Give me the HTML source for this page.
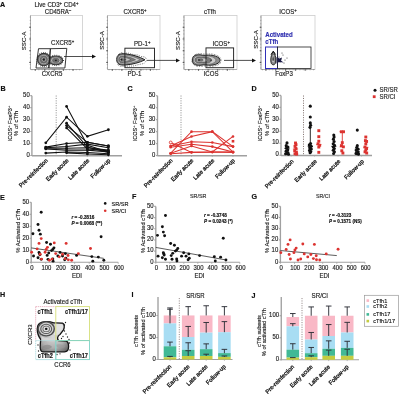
<!DOCTYPE html>
<html><head><meta charset="utf-8"><style>
html,body{margin:0;padding:0;background:#fff;width:400px;height:394px;overflow:hidden}
svg{display:block;will-change:transform}
text{font-family:"Liberation Sans", sans-serif;stroke:currentColor;stroke-width:0.15px}
</style></head><body>
<svg width="400" height="394" viewBox="0 0 400 394">
<rect width="400" height="394" fill="#fff"/>
<text x="0" y="0" font-size="7.2" text-anchor="start" font-weight="bold" fill="#111" color="#111" transform="translate(0 7.45) scale(1 1.12)" >A</text>
<text x="0" y="0" font-size="7.2" text-anchor="start" font-weight="bold" fill="#111" color="#111" transform="translate(0.5 90.95) scale(1 1.12)" >B</text>
<text x="0" y="0" font-size="7.2" text-anchor="start" font-weight="bold" fill="#111" color="#111" transform="translate(127.5 90.95) scale(1 1.12)" >C</text>
<text x="0" y="0" font-size="7.2" text-anchor="start" font-weight="bold" fill="#111" color="#111" transform="translate(251.5 90.95) scale(1 1.12)" >D</text>
<text x="0" y="0" font-size="7.2" text-anchor="start" font-weight="bold" fill="#111" color="#111" transform="translate(0 199.95) scale(1 1.12)" >E</text>
<text x="0" y="0" font-size="7.2" text-anchor="start" font-weight="bold" fill="#111" color="#111" transform="translate(132 199.45) scale(1 1.12)" >F</text>
<text x="0" y="0" font-size="7.2" text-anchor="start" font-weight="bold" fill="#111" color="#111" transform="translate(251.5 199.45) scale(1 1.12)" >G</text>
<text x="0" y="0" font-size="7.2" text-anchor="start" font-weight="bold" fill="#111" color="#111" transform="translate(0 297.45) scale(1 1.12)" >H</text>
<text x="0" y="0" font-size="7.2" text-anchor="start" font-weight="bold" fill="#111" color="#111" transform="translate(131.5 297.45) scale(1 1.12)" >I</text>
<text x="0" y="0" font-size="7.2" text-anchor="start" font-weight="bold" fill="#111" color="#111" transform="translate(251.5 297.95) scale(1 1.12)" >J</text>
<rect x="30.5" y="15.5" width="52" height="54" fill="none" stroke="#cccccc" stroke-width="0.8" />
<line x1="30.5" y1="15.5" x2="30.5" y2="69.5" stroke="#a8a8a8" stroke-width="0.9" />
<line x1="30.5" y1="69.5" x2="82.5" y2="69.5" stroke="#a8a8a8" stroke-width="0.9" />
<line x1="29.7" y1="68" x2="30.8" y2="68" stroke="#777" stroke-width="0.5" />
<line x1="29.7" y1="64.6" x2="30.8" y2="64.6" stroke="#777" stroke-width="0.5" />
<line x1="29.7" y1="61.2" x2="30.8" y2="61.2" stroke="#777" stroke-width="0.5" />
<line x1="29.7" y1="57.8" x2="30.8" y2="57.8" stroke="#777" stroke-width="0.5" />
<line x1="29.7" y1="54.4" x2="30.8" y2="54.4" stroke="#777" stroke-width="0.5" />
<line x1="29.7" y1="51" x2="30.8" y2="51" stroke="#777" stroke-width="0.5" />
<line x1="29.7" y1="47.6" x2="30.8" y2="47.6" stroke="#777" stroke-width="0.5" />
<line x1="29.7" y1="44.2" x2="30.8" y2="44.2" stroke="#777" stroke-width="0.5" />
<line x1="29.7" y1="40.8" x2="30.8" y2="40.8" stroke="#777" stroke-width="0.5" />
<line x1="29.7" y1="37.4" x2="30.8" y2="37.4" stroke="#777" stroke-width="0.5" />
<line x1="29.7" y1="34" x2="30.8" y2="34" stroke="#777" stroke-width="0.5" />
<line x1="29.7" y1="30.6" x2="30.8" y2="30.6" stroke="#777" stroke-width="0.5" />
<line x1="29.7" y1="27.2" x2="30.8" y2="27.2" stroke="#777" stroke-width="0.5" />
<line x1="29.7" y1="23.8" x2="30.8" y2="23.8" stroke="#777" stroke-width="0.5" />
<line x1="29.7" y1="20.4" x2="30.8" y2="20.4" stroke="#777" stroke-width="0.5" />
<line x1="29.7" y1="17" x2="30.8" y2="17" stroke="#777" stroke-width="0.5" />
<line x1="29.2" y1="62.46" x2="30.8" y2="62.46" stroke="#333" stroke-width="0.8" />
<line x1="29.2" y1="50.72" x2="30.8" y2="50.72" stroke="#333" stroke-width="0.8" />
<line x1="29.2" y1="38.98" x2="30.8" y2="38.98" stroke="#333" stroke-width="0.8" />
<line x1="29.2" y1="27.24" x2="30.8" y2="27.24" stroke="#333" stroke-width="0.8" />
<line x1="32" y1="69.2" x2="32" y2="70.3" stroke="#777" stroke-width="0.5" />
<line x1="35.4" y1="69.2" x2="35.4" y2="70.3" stroke="#777" stroke-width="0.5" />
<line x1="38.8" y1="69.2" x2="38.8" y2="70.3" stroke="#777" stroke-width="0.5" />
<line x1="42.2" y1="69.2" x2="42.2" y2="70.3" stroke="#777" stroke-width="0.5" />
<line x1="45.6" y1="69.2" x2="45.6" y2="70.3" stroke="#777" stroke-width="0.5" />
<line x1="49" y1="69.2" x2="49" y2="70.3" stroke="#777" stroke-width="0.5" />
<line x1="52.4" y1="69.2" x2="52.4" y2="70.3" stroke="#777" stroke-width="0.5" />
<line x1="55.8" y1="69.2" x2="55.8" y2="70.3" stroke="#777" stroke-width="0.5" />
<line x1="59.2" y1="69.2" x2="59.2" y2="70.3" stroke="#777" stroke-width="0.5" />
<line x1="62.6" y1="69.2" x2="62.6" y2="70.3" stroke="#777" stroke-width="0.5" />
<line x1="66" y1="69.2" x2="66" y2="70.3" stroke="#777" stroke-width="0.5" />
<line x1="69.4" y1="69.2" x2="69.4" y2="70.3" stroke="#777" stroke-width="0.5" />
<line x1="72.8" y1="69.2" x2="72.8" y2="70.3" stroke="#777" stroke-width="0.5" />
<line x1="76.2" y1="69.2" x2="76.2" y2="70.3" stroke="#777" stroke-width="0.5" />
<line x1="79.6" y1="69.2" x2="79.6" y2="70.3" stroke="#777" stroke-width="0.5" />
<line x1="35.23" y1="69.2" x2="35.23" y2="70.8" stroke="#333" stroke-width="0.8" />
<line x1="44.68" y1="69.2" x2="44.68" y2="70.8" stroke="#333" stroke-width="0.8" />
<line x1="54.14" y1="69.2" x2="54.14" y2="70.8" stroke="#333" stroke-width="0.8" />
<line x1="63.59" y1="69.2" x2="63.59" y2="70.8" stroke="#333" stroke-width="0.8" />
<line x1="73.05" y1="69.2" x2="73.05" y2="70.8" stroke="#333" stroke-width="0.8" />
<text x="0" y="0" font-size="6.1" text-anchor="middle" font-weight="normal" fill="#1e1e1e" color="#1e1e1e" transform="translate(56.5 6.85) scale(1 1.12)" >Live CD3<tspan font-size="70%" dy="-2">+</tspan><tspan dy="2"> </tspan>CD4<tspan font-size="70%" dy="-2">+</tspan></text>
<text x="0" y="0" font-size="6.1" text-anchor="middle" font-weight="normal" fill="#1e1e1e" color="#1e1e1e" transform="translate(58 14.15) scale(1 1.12)" >CD45RA<tspan font-size="70%" dy="-2">&#8211;</tspan></text>
<text x="26.4" y="40.9" font-size="6.1" text-anchor="middle" font-weight="normal" fill="#1e1e1e" color="#1e1e1e" transform="rotate(-90 26.4 40.9)" >SSC-A</text>
<text x="0" y="0" font-size="6.1" text-anchor="middle" font-weight="normal" fill="#1e1e1e" color="#1e1e1e" transform="translate(52 75.75) scale(1 1.12)" >CXCR5</text>
<circle cx="43.8" cy="59.6" r="7" fill="none" stroke="#333" stroke-width="1.2" stroke-dasharray="0.6 1.4"/>
<ellipse cx="55.8" cy="60.4" rx="7.6" ry="5.2" fill="none" stroke="#333" stroke-width="1.1" stroke-dasharray="0.6 1.6"/>
<g>
<ellipse cx="55.8" cy="60.4" rx="6.8" ry="4.4" fill="#8a8a8a" stroke="#333" stroke-width="1.1"/>
<ellipse cx="55.8" cy="60.4" rx="5.1" ry="3.3" fill="#c4c4c4" stroke="#444" stroke-width="0.5"/>
<ellipse cx="55.8" cy="60.4" rx="3.4" ry="2.2" fill="#7a7a7a" stroke="#444" stroke-width="0.5"/>
<ellipse cx="55.8" cy="60.4" rx="1.7" ry="1.1" fill="#c4c4c4" stroke="#444" stroke-width="0.5"/>
<ellipse cx="55.8" cy="60.4" rx="1.22" ry="0.79" fill="#222"/>
</g>
<g>
<ellipse cx="43.8" cy="59.6" rx="6.2" ry="6.2" fill="#8a8a8a" stroke="#333" stroke-width="1.1"/>
<ellipse cx="43.8" cy="59.6" rx="4.96" ry="4.96" fill="#c4c4c4" stroke="#444" stroke-width="0.5"/>
<ellipse cx="43.8" cy="59.6" rx="3.72" ry="3.72" fill="#7a7a7a" stroke="#444" stroke-width="0.5"/>
<ellipse cx="43.8" cy="59.6" rx="2.48" ry="2.48" fill="#c4c4c4" stroke="#444" stroke-width="0.5"/>
<ellipse cx="43.8" cy="59.6" rx="1.24" ry="1.24" fill="#7a7a7a" stroke="#444" stroke-width="0.5"/>
<ellipse cx="43.8" cy="59.6" rx="1.12" ry="1.12" fill="#222"/>
</g>
<path d="M38.5 48.7 L50.4 48.7 L48.8 68 L36 68 Z" fill="none" stroke="#222" stroke-width="0.9"/>
<path d="M50.4 48.7 L66.8 48.4 L64.9 68 L48.8 68 Z" fill="none" stroke="#222" stroke-width="0.9"/>
<text x="0" y="0" font-size="6.1" text-anchor="start" font-weight="normal" fill="#1e1e1e" color="#1e1e1e" transform="translate(51 45.15) scale(1 1.12)" >CXCR5<tspan font-size="70%" dy="-2">+</tspan></text>
<line x1="64" y1="56.5" x2="93" y2="56.5" stroke="#222" stroke-width="0.8" />
<path d="M96 56.5 L92 54.5 L92 58.5 Z" fill="#111"/>
<rect x="107.5" y="15.5" width="52.5" height="54" fill="none" stroke="#cccccc" stroke-width="0.8" />
<line x1="107.5" y1="15.5" x2="107.5" y2="69.5" stroke="#a8a8a8" stroke-width="0.9" />
<line x1="107.5" y1="69.5" x2="160" y2="69.5" stroke="#a8a8a8" stroke-width="0.9" />
<line x1="106.7" y1="68" x2="107.8" y2="68" stroke="#777" stroke-width="0.5" />
<line x1="106.7" y1="64.6" x2="107.8" y2="64.6" stroke="#777" stroke-width="0.5" />
<line x1="106.7" y1="61.2" x2="107.8" y2="61.2" stroke="#777" stroke-width="0.5" />
<line x1="106.7" y1="57.8" x2="107.8" y2="57.8" stroke="#777" stroke-width="0.5" />
<line x1="106.7" y1="54.4" x2="107.8" y2="54.4" stroke="#777" stroke-width="0.5" />
<line x1="106.7" y1="51" x2="107.8" y2="51" stroke="#777" stroke-width="0.5" />
<line x1="106.7" y1="47.6" x2="107.8" y2="47.6" stroke="#777" stroke-width="0.5" />
<line x1="106.7" y1="44.2" x2="107.8" y2="44.2" stroke="#777" stroke-width="0.5" />
<line x1="106.7" y1="40.8" x2="107.8" y2="40.8" stroke="#777" stroke-width="0.5" />
<line x1="106.7" y1="37.4" x2="107.8" y2="37.4" stroke="#777" stroke-width="0.5" />
<line x1="106.7" y1="34" x2="107.8" y2="34" stroke="#777" stroke-width="0.5" />
<line x1="106.7" y1="30.6" x2="107.8" y2="30.6" stroke="#777" stroke-width="0.5" />
<line x1="106.7" y1="27.2" x2="107.8" y2="27.2" stroke="#777" stroke-width="0.5" />
<line x1="106.7" y1="23.8" x2="107.8" y2="23.8" stroke="#777" stroke-width="0.5" />
<line x1="106.7" y1="20.4" x2="107.8" y2="20.4" stroke="#777" stroke-width="0.5" />
<line x1="106.7" y1="17" x2="107.8" y2="17" stroke="#777" stroke-width="0.5" />
<line x1="106.2" y1="62.46" x2="107.8" y2="62.46" stroke="#333" stroke-width="0.8" />
<line x1="106.2" y1="50.72" x2="107.8" y2="50.72" stroke="#333" stroke-width="0.8" />
<line x1="106.2" y1="38.98" x2="107.8" y2="38.98" stroke="#333" stroke-width="0.8" />
<line x1="106.2" y1="27.24" x2="107.8" y2="27.24" stroke="#333" stroke-width="0.8" />
<line x1="109" y1="69.2" x2="109" y2="70.3" stroke="#777" stroke-width="0.5" />
<line x1="112.4" y1="69.2" x2="112.4" y2="70.3" stroke="#777" stroke-width="0.5" />
<line x1="115.8" y1="69.2" x2="115.8" y2="70.3" stroke="#777" stroke-width="0.5" />
<line x1="119.2" y1="69.2" x2="119.2" y2="70.3" stroke="#777" stroke-width="0.5" />
<line x1="122.6" y1="69.2" x2="122.6" y2="70.3" stroke="#777" stroke-width="0.5" />
<line x1="126" y1="69.2" x2="126" y2="70.3" stroke="#777" stroke-width="0.5" />
<line x1="129.4" y1="69.2" x2="129.4" y2="70.3" stroke="#777" stroke-width="0.5" />
<line x1="132.8" y1="69.2" x2="132.8" y2="70.3" stroke="#777" stroke-width="0.5" />
<line x1="136.2" y1="69.2" x2="136.2" y2="70.3" stroke="#777" stroke-width="0.5" />
<line x1="139.6" y1="69.2" x2="139.6" y2="70.3" stroke="#777" stroke-width="0.5" />
<line x1="143" y1="69.2" x2="143" y2="70.3" stroke="#777" stroke-width="0.5" />
<line x1="146.4" y1="69.2" x2="146.4" y2="70.3" stroke="#777" stroke-width="0.5" />
<line x1="149.8" y1="69.2" x2="149.8" y2="70.3" stroke="#777" stroke-width="0.5" />
<line x1="153.2" y1="69.2" x2="153.2" y2="70.3" stroke="#777" stroke-width="0.5" />
<line x1="156.6" y1="69.2" x2="156.6" y2="70.3" stroke="#777" stroke-width="0.5" />
<line x1="112.27" y1="69.2" x2="112.27" y2="70.8" stroke="#333" stroke-width="0.8" />
<line x1="121.82" y1="69.2" x2="121.82" y2="70.8" stroke="#333" stroke-width="0.8" />
<line x1="131.36" y1="69.2" x2="131.36" y2="70.8" stroke="#333" stroke-width="0.8" />
<line x1="140.91" y1="69.2" x2="140.91" y2="70.8" stroke="#333" stroke-width="0.8" />
<line x1="150.45" y1="69.2" x2="150.45" y2="70.8" stroke="#333" stroke-width="0.8" />
<text x="0" y="0" font-size="6.1" text-anchor="middle" font-weight="normal" fill="#1e1e1e" color="#1e1e1e" transform="translate(135 14.15) scale(1 1.12)" >CXCR5<tspan font-size="70%" dy="-2">+</tspan></text>
<text x="104.2" y="40.5" font-size="6.1" text-anchor="middle" font-weight="normal" fill="#1e1e1e" color="#1e1e1e" transform="rotate(-90 104.2 40.5)" >SSC-A</text>
<text x="0" y="0" font-size="6.1" text-anchor="middle" font-weight="normal" fill="#1e1e1e" color="#1e1e1e" transform="translate(134.5 75.75) scale(1 1.12)" >PD-1</text>
<path d="M118 55 L121 52.5 L124 53.5 L128 53 L133 54.5 L138 55 L141 56.5 L145 57 L147 60 L144 63.5 L139 64.5 L133 66 L126 66.2 L120 66.3 L117 64" fill="none" stroke="#333" stroke-width="1" stroke-dasharray="0.6 1.3"/>
<path d="M116.7 59.5 C116.7 54.5 120 53.3 125 53.8 C132 54.5 139 56.5 145 59.8 C139 62.8 132 64.6 125 65 C120 65.4 116.7 64.2 116.7 59.5 Z" fill="#8e8e8e" stroke="#222" stroke-width="1" vector-effect="non-scaling-stroke" transform="translate(121.5 59.6) scale(1) translate(-121.5 -59.6)"/>
<path d="M116.7 59.5 C116.7 54.5 120 53.3 125 53.8 C132 54.5 139 56.5 145 59.8 C139 62.8 132 64.6 125 65 C120 65.4 116.7 64.2 116.7 59.5 Z" fill="#cdcdcd" stroke="#444" stroke-width="0.45" vector-effect="non-scaling-stroke" transform="translate(121.5 59.6) scale(0.8) translate(-121.5 -59.6)"/>
<path d="M116.7 59.5 C116.7 54.5 120 53.3 125 53.8 C132 54.5 139 56.5 145 59.8 C139 62.8 132 64.6 125 65 C120 65.4 116.7 64.2 116.7 59.5 Z" fill="#7c7c7c" stroke="#444" stroke-width="0.45" vector-effect="non-scaling-stroke" transform="translate(121.5 59.6) scale(0.6) translate(-121.5 -59.6)"/>
<path d="M116.7 59.5 C116.7 54.5 120 53.3 125 53.8 C132 54.5 139 56.5 145 59.8 C139 62.8 132 64.6 125 65 C120 65.4 116.7 64.2 116.7 59.5 Z" fill="#c8c8c8" stroke="#444" stroke-width="0.45" vector-effect="non-scaling-stroke" transform="translate(121.5 59.6) scale(0.4) translate(-121.5 -59.6)"/>
<path d="M116.7 59.5 C116.7 54.5 120 53.3 125 53.8 C132 54.5 139 56.5 145 59.8 C139 62.8 132 64.6 125 65 C120 65.4 116.7 64.2 116.7 59.5 Z" fill="#777" stroke="#444" stroke-width="0.45" vector-effect="non-scaling-stroke" transform="translate(121.5 59.6) scale(0.2) translate(-121.5 -59.6)"/>
<circle cx="121.5" cy="59.6" r="0.9" fill="#1a1a1a" stroke="none" stroke-width="0.5"/>
<rect x="124.9" y="48.2" width="29.6" height="19.5" fill="none" stroke="#222" stroke-width="0.95" />
<text x="0" y="0" font-size="6.1" text-anchor="start" font-weight="normal" fill="#1e1e1e" color="#1e1e1e" transform="translate(134 45.95) scale(1 1.12)" >PD-1<tspan font-size="70%" dy="-2">+</tspan></text>
<line x1="147" y1="60.4" x2="177" y2="60.4" stroke="#222" stroke-width="0.8" />
<path d="M180 60.4 L176 58.4 L176 62.4 Z" fill="#111"/>
<rect x="184" y="15.5" width="53" height="54" fill="none" stroke="#cccccc" stroke-width="0.8" />
<line x1="184" y1="15.5" x2="184" y2="69.5" stroke="#a8a8a8" stroke-width="0.9" />
<line x1="184" y1="69.5" x2="237" y2="69.5" stroke="#a8a8a8" stroke-width="0.9" />
<line x1="183.2" y1="68" x2="184.3" y2="68" stroke="#777" stroke-width="0.5" />
<line x1="183.2" y1="64.6" x2="184.3" y2="64.6" stroke="#777" stroke-width="0.5" />
<line x1="183.2" y1="61.2" x2="184.3" y2="61.2" stroke="#777" stroke-width="0.5" />
<line x1="183.2" y1="57.8" x2="184.3" y2="57.8" stroke="#777" stroke-width="0.5" />
<line x1="183.2" y1="54.4" x2="184.3" y2="54.4" stroke="#777" stroke-width="0.5" />
<line x1="183.2" y1="51" x2="184.3" y2="51" stroke="#777" stroke-width="0.5" />
<line x1="183.2" y1="47.6" x2="184.3" y2="47.6" stroke="#777" stroke-width="0.5" />
<line x1="183.2" y1="44.2" x2="184.3" y2="44.2" stroke="#777" stroke-width="0.5" />
<line x1="183.2" y1="40.8" x2="184.3" y2="40.8" stroke="#777" stroke-width="0.5" />
<line x1="183.2" y1="37.4" x2="184.3" y2="37.4" stroke="#777" stroke-width="0.5" />
<line x1="183.2" y1="34" x2="184.3" y2="34" stroke="#777" stroke-width="0.5" />
<line x1="183.2" y1="30.6" x2="184.3" y2="30.6" stroke="#777" stroke-width="0.5" />
<line x1="183.2" y1="27.2" x2="184.3" y2="27.2" stroke="#777" stroke-width="0.5" />
<line x1="183.2" y1="23.8" x2="184.3" y2="23.8" stroke="#777" stroke-width="0.5" />
<line x1="183.2" y1="20.4" x2="184.3" y2="20.4" stroke="#777" stroke-width="0.5" />
<line x1="183.2" y1="17" x2="184.3" y2="17" stroke="#777" stroke-width="0.5" />
<line x1="182.7" y1="62.46" x2="184.3" y2="62.46" stroke="#333" stroke-width="0.8" />
<line x1="182.7" y1="50.72" x2="184.3" y2="50.72" stroke="#333" stroke-width="0.8" />
<line x1="182.7" y1="38.98" x2="184.3" y2="38.98" stroke="#333" stroke-width="0.8" />
<line x1="182.7" y1="27.24" x2="184.3" y2="27.24" stroke="#333" stroke-width="0.8" />
<line x1="185.5" y1="69.2" x2="185.5" y2="70.3" stroke="#777" stroke-width="0.5" />
<line x1="188.9" y1="69.2" x2="188.9" y2="70.3" stroke="#777" stroke-width="0.5" />
<line x1="192.3" y1="69.2" x2="192.3" y2="70.3" stroke="#777" stroke-width="0.5" />
<line x1="195.7" y1="69.2" x2="195.7" y2="70.3" stroke="#777" stroke-width="0.5" />
<line x1="199.1" y1="69.2" x2="199.1" y2="70.3" stroke="#777" stroke-width="0.5" />
<line x1="202.5" y1="69.2" x2="202.5" y2="70.3" stroke="#777" stroke-width="0.5" />
<line x1="205.9" y1="69.2" x2="205.9" y2="70.3" stroke="#777" stroke-width="0.5" />
<line x1="209.3" y1="69.2" x2="209.3" y2="70.3" stroke="#777" stroke-width="0.5" />
<line x1="212.7" y1="69.2" x2="212.7" y2="70.3" stroke="#777" stroke-width="0.5" />
<line x1="216.1" y1="69.2" x2="216.1" y2="70.3" stroke="#777" stroke-width="0.5" />
<line x1="219.5" y1="69.2" x2="219.5" y2="70.3" stroke="#777" stroke-width="0.5" />
<line x1="222.9" y1="69.2" x2="222.9" y2="70.3" stroke="#777" stroke-width="0.5" />
<line x1="226.3" y1="69.2" x2="226.3" y2="70.3" stroke="#777" stroke-width="0.5" />
<line x1="229.7" y1="69.2" x2="229.7" y2="70.3" stroke="#777" stroke-width="0.5" />
<line x1="233.1" y1="69.2" x2="233.1" y2="70.3" stroke="#777" stroke-width="0.5" />
<line x1="188.82" y1="69.2" x2="188.82" y2="70.8" stroke="#333" stroke-width="0.8" />
<line x1="198.45" y1="69.2" x2="198.45" y2="70.8" stroke="#333" stroke-width="0.8" />
<line x1="208.09" y1="69.2" x2="208.09" y2="70.8" stroke="#333" stroke-width="0.8" />
<line x1="217.73" y1="69.2" x2="217.73" y2="70.8" stroke="#333" stroke-width="0.8" />
<line x1="227.36" y1="69.2" x2="227.36" y2="70.8" stroke="#333" stroke-width="0.8" />
<text x="0" y="0" font-size="6.1" text-anchor="middle" font-weight="normal" fill="#1e1e1e" color="#1e1e1e" transform="translate(210 14.15) scale(1 1.12)" >cTfh</text>
<text x="179.7" y="40.6" font-size="6.1" text-anchor="middle" font-weight="normal" fill="#1e1e1e" color="#1e1e1e" transform="rotate(-90 179.7 40.6)" >SSC-A</text>
<text x="0" y="0" font-size="6.1" text-anchor="middle" font-weight="normal" fill="#1e1e1e" color="#1e1e1e" transform="translate(211 75.75) scale(1 1.12)" >ICOS</text>
<path d="M193 57 C195 53.5 199 53.3 203 54 L206 54.2 C210 53.6 216 53.8 220 57.5 C221.5 59.5 221.3 62 219.5 64 C216 66.5 209 66.5 205.5 65.8 L200 66.3 C196 66.5 192.5 65 192 61" fill="none" stroke="#222" stroke-width="1" stroke-dasharray="0.5 1.1"/>
<path d="M192.3 60 C192.3 55.5 196 54.6 200 54.8 C202 55 204 55.6 205.5 55.4 C209 54.8 215 55 219 58 C220.5 59.5 220.3 61.5 218.5 63 C215 65.5 209 65.6 205.5 64.8 C204 64.5 202 65.2 200 65.3 C196 65.5 192.3 64.5 192.3 60 Z" fill="#8e8e8e" stroke="#222" stroke-width="1" vector-effect="non-scaling-stroke" transform="translate(199 60) scale(1) translate(-199 -60)"/>
<path d="M192.3 60 C192.3 55.5 196 54.6 200 54.8 C202 55 204 55.6 205.5 55.4 C209 54.8 215 55 219 58 C220.5 59.5 220.3 61.5 218.5 63 C215 65.5 209 65.6 205.5 64.8 C204 64.5 202 65.2 200 65.3 C196 65.5 192.3 64.5 192.3 60 Z" fill="#cdcdcd" stroke="#444" stroke-width="0.45" vector-effect="non-scaling-stroke" transform="translate(199 60) scale(0.8) translate(-199 -60)"/>
<path d="M192.3 60 C192.3 55.5 196 54.6 200 54.8 C202 55 204 55.6 205.5 55.4 C209 54.8 215 55 219 58 C220.5 59.5 220.3 61.5 218.5 63 C215 65.5 209 65.6 205.5 64.8 C204 64.5 202 65.2 200 65.3 C196 65.5 192.3 64.5 192.3 60 Z" fill="#7c7c7c" stroke="#444" stroke-width="0.45" vector-effect="non-scaling-stroke" transform="translate(199 60) scale(0.6) translate(-199 -60)"/>
<path d="M192.3 60 C192.3 55.5 196 54.6 200 54.8 C202 55 204 55.6 205.5 55.4 C209 54.8 215 55 219 58 C220.5 59.5 220.3 61.5 218.5 63 C215 65.5 209 65.6 205.5 64.8 C204 64.5 202 65.2 200 65.3 C196 65.5 192.3 64.5 192.3 60 Z" fill="#c8c8c8" stroke="#444" stroke-width="0.45" vector-effect="non-scaling-stroke" transform="translate(199 60) scale(0.4) translate(-199 -60)"/>
<path d="M192.3 60 C192.3 55.5 196 54.6 200 54.8 C202 55 204 55.6 205.5 55.4 C209 54.8 215 55 219 58 C220.5 59.5 220.3 61.5 218.5 63 C215 65.5 209 65.6 205.5 64.8 C204 64.5 202 65.2 200 65.3 C196 65.5 192.3 64.5 192.3 60 Z" fill="#777" stroke="#444" stroke-width="0.45" vector-effect="non-scaling-stroke" transform="translate(199 60) scale(0.2) translate(-199 -60)"/>
<circle cx="199" cy="60" r="0.8" fill="#1a1a1a" stroke="none" stroke-width="0.5"/>
<circle cx="211" cy="60.2" r="0.7" fill="#1e1e1e" stroke="none" stroke-width="0.5"/>
<rect x="206" y="47.9" width="27.6" height="19.8" fill="none" stroke="#222" stroke-width="0.95" />
<text x="0" y="0" font-size="6.1" text-anchor="start" font-weight="normal" fill="#1e1e1e" color="#1e1e1e" transform="translate(212.5 45.95) scale(1 1.12)" >ICOS<tspan font-size="70%" dy="-2">+</tspan></text>
<line x1="224" y1="60.4" x2="253" y2="60.4" stroke="#222" stroke-width="0.8" />
<path d="M256 60.4 L252 58.4 L252 62.4 Z" fill="#111"/>
<rect x="261" y="15.5" width="54" height="54" fill="none" stroke="#cccccc" stroke-width="0.8" />
<line x1="261" y1="15.5" x2="261" y2="69.5" stroke="#a8a8a8" stroke-width="0.9" />
<line x1="261" y1="69.5" x2="315" y2="69.5" stroke="#a8a8a8" stroke-width="0.9" />
<line x1="260.2" y1="68" x2="261.3" y2="68" stroke="#777" stroke-width="0.5" />
<line x1="260.2" y1="64.6" x2="261.3" y2="64.6" stroke="#777" stroke-width="0.5" />
<line x1="260.2" y1="61.2" x2="261.3" y2="61.2" stroke="#777" stroke-width="0.5" />
<line x1="260.2" y1="57.8" x2="261.3" y2="57.8" stroke="#777" stroke-width="0.5" />
<line x1="260.2" y1="54.4" x2="261.3" y2="54.4" stroke="#777" stroke-width="0.5" />
<line x1="260.2" y1="51" x2="261.3" y2="51" stroke="#777" stroke-width="0.5" />
<line x1="260.2" y1="47.6" x2="261.3" y2="47.6" stroke="#777" stroke-width="0.5" />
<line x1="260.2" y1="44.2" x2="261.3" y2="44.2" stroke="#777" stroke-width="0.5" />
<line x1="260.2" y1="40.8" x2="261.3" y2="40.8" stroke="#777" stroke-width="0.5" />
<line x1="260.2" y1="37.4" x2="261.3" y2="37.4" stroke="#777" stroke-width="0.5" />
<line x1="260.2" y1="34" x2="261.3" y2="34" stroke="#777" stroke-width="0.5" />
<line x1="260.2" y1="30.6" x2="261.3" y2="30.6" stroke="#777" stroke-width="0.5" />
<line x1="260.2" y1="27.2" x2="261.3" y2="27.2" stroke="#777" stroke-width="0.5" />
<line x1="260.2" y1="23.8" x2="261.3" y2="23.8" stroke="#777" stroke-width="0.5" />
<line x1="260.2" y1="20.4" x2="261.3" y2="20.4" stroke="#777" stroke-width="0.5" />
<line x1="260.2" y1="17" x2="261.3" y2="17" stroke="#777" stroke-width="0.5" />
<line x1="259.7" y1="62.46" x2="261.3" y2="62.46" stroke="#333" stroke-width="0.8" />
<line x1="259.7" y1="50.72" x2="261.3" y2="50.72" stroke="#333" stroke-width="0.8" />
<line x1="259.7" y1="38.98" x2="261.3" y2="38.98" stroke="#333" stroke-width="0.8" />
<line x1="259.7" y1="27.24" x2="261.3" y2="27.24" stroke="#333" stroke-width="0.8" />
<line x1="262.5" y1="69.2" x2="262.5" y2="70.3" stroke="#777" stroke-width="0.5" />
<line x1="265.9" y1="69.2" x2="265.9" y2="70.3" stroke="#777" stroke-width="0.5" />
<line x1="269.3" y1="69.2" x2="269.3" y2="70.3" stroke="#777" stroke-width="0.5" />
<line x1="272.7" y1="69.2" x2="272.7" y2="70.3" stroke="#777" stroke-width="0.5" />
<line x1="276.1" y1="69.2" x2="276.1" y2="70.3" stroke="#777" stroke-width="0.5" />
<line x1="279.5" y1="69.2" x2="279.5" y2="70.3" stroke="#777" stroke-width="0.5" />
<line x1="282.9" y1="69.2" x2="282.9" y2="70.3" stroke="#777" stroke-width="0.5" />
<line x1="286.3" y1="69.2" x2="286.3" y2="70.3" stroke="#777" stroke-width="0.5" />
<line x1="289.7" y1="69.2" x2="289.7" y2="70.3" stroke="#777" stroke-width="0.5" />
<line x1="293.1" y1="69.2" x2="293.1" y2="70.3" stroke="#777" stroke-width="0.5" />
<line x1="296.5" y1="69.2" x2="296.5" y2="70.3" stroke="#777" stroke-width="0.5" />
<line x1="299.9" y1="69.2" x2="299.9" y2="70.3" stroke="#777" stroke-width="0.5" />
<line x1="303.3" y1="69.2" x2="303.3" y2="70.3" stroke="#777" stroke-width="0.5" />
<line x1="306.7" y1="69.2" x2="306.7" y2="70.3" stroke="#777" stroke-width="0.5" />
<line x1="310.1" y1="69.2" x2="310.1" y2="70.3" stroke="#777" stroke-width="0.5" />
<line x1="313.5" y1="69.2" x2="313.5" y2="70.3" stroke="#777" stroke-width="0.5" />
<line x1="265.91" y1="69.2" x2="265.91" y2="70.8" stroke="#333" stroke-width="0.8" />
<line x1="275.73" y1="69.2" x2="275.73" y2="70.8" stroke="#333" stroke-width="0.8" />
<line x1="285.55" y1="69.2" x2="285.55" y2="70.8" stroke="#333" stroke-width="0.8" />
<line x1="295.36" y1="69.2" x2="295.36" y2="70.8" stroke="#333" stroke-width="0.8" />
<line x1="305.18" y1="69.2" x2="305.18" y2="70.8" stroke="#333" stroke-width="0.8" />
<text x="0" y="0" font-size="6.1" text-anchor="middle" font-weight="normal" fill="#1e1e1e" color="#1e1e1e" transform="translate(288 14.15) scale(1 1.12)" >ICOS<tspan font-size="70%" dy="-2">+</tspan></text>
<text x="258.4" y="39.4" font-size="6.1" text-anchor="middle" font-weight="normal" fill="#1e1e1e" color="#1e1e1e" transform="rotate(-90 258.4 39.4)" >SSC-A</text>
<text x="0" y="0" font-size="6.1" text-anchor="middle" font-weight="normal" fill="#1e1e1e" color="#1e1e1e" transform="translate(284 75.75) scale(1 1.12)" >FoxP3</text>
<path d="M273.3 51.5 C275 54 275.8 57 275.8 60 C275.8 63.5 274.8 64.8 273.3 64.8 C271.8 64.8 270.8 63.5 270.8 60 C270.8 57 271.6 54 273.3 51.5 Z" fill="#8e8e8e" stroke="#222" stroke-width="1" vector-effect="non-scaling-stroke" transform="translate(273.3 59) scale(1) translate(-273.3 -59)"/>
<path d="M273.3 51.5 C275 54 275.8 57 275.8 60 C275.8 63.5 274.8 64.8 273.3 64.8 C271.8 64.8 270.8 63.5 270.8 60 C270.8 57 271.6 54 273.3 51.5 Z" fill="#cdcdcd" stroke="#444" stroke-width="0.45" vector-effect="non-scaling-stroke" transform="translate(273.3 59) scale(0.67) translate(-273.3 -59)"/>
<path d="M273.3 51.5 C275 54 275.8 57 275.8 60 C275.8 63.5 274.8 64.8 273.3 64.8 C271.8 64.8 270.8 63.5 270.8 60 C270.8 57 271.6 54 273.3 51.5 Z" fill="#7c7c7c" stroke="#444" stroke-width="0.45" vector-effect="non-scaling-stroke" transform="translate(273.3 59) scale(0.33) translate(-273.3 -59)"/>
<circle cx="273.3" cy="59" r="0.6" fill="#1a1a1a" stroke="none" stroke-width="0.5"/>
<path d="M271 54.5 L273.3 51.2 L275.6 54.5" fill="none" stroke="#111" stroke-width="1"/>
<path d="M276.5 57 L279.5 58.5 L282 57.5 L281 60.5 L283.5 62.5 L279 62 L276.5 63.5 Z" fill="#1b1b4a"/>
<circle cx="279" cy="57" r="0.5" fill="#1e1e1e" stroke="none" stroke-width="0.5"/>
<circle cx="281" cy="59" r="0.5" fill="#1e1e1e" stroke="none" stroke-width="0.5"/>
<circle cx="283" cy="55" r="0.5" fill="#1e1e1e" stroke="none" stroke-width="0.5"/>
<circle cx="285" cy="60" r="0.5" fill="#1e1e1e" stroke="none" stroke-width="0.5"/>
<circle cx="280" cy="62" r="0.5" fill="#1e1e1e" stroke="none" stroke-width="0.5"/>
<circle cx="284" cy="63" r="0.5" fill="#1e1e1e" stroke="none" stroke-width="0.5"/>
<circle cx="287" cy="58" r="0.5" fill="#1e1e1e" stroke="none" stroke-width="0.5"/>
<circle cx="282" cy="53" r="0.5" fill="#1e1e1e" stroke="none" stroke-width="0.5"/>
<rect x="265.5" y="47" width="12" height="21.5" fill="none" stroke="#3030b8" stroke-width="1" />
<rect x="277.5" y="47" width="33.5" height="21.5" fill="none" stroke="#222" stroke-width="0.8" />
<text x="0" y="0" font-size="6.1" text-anchor="start" font-weight="bold" fill="#3030b0" color="#3030b0" transform="translate(265.3 37.25) scale(1 1.12)" >Activated</text>
<text x="0" y="0" font-size="6.1" text-anchor="start" font-weight="bold" fill="#3030b0" color="#3030b0" transform="translate(265.3 44.25) scale(1 1.12)" >cTfh</text>
<line x1="31.9" y1="95.65" x2="31.9" y2="156" stroke="#a0a0a0" stroke-width="1.35" />
<line x1="30.3" y1="155.5" x2="31.9" y2="155.5" stroke="#a0a0a0" stroke-width="1.1" />
<text x="0" y="0" font-size="5.95" text-anchor="end" font-weight="normal" fill="#1e1e1e" color="#1e1e1e" transform="translate(29.7 156.75) scale(1 1.12)" >0</text>
<line x1="30.3" y1="143.53" x2="31.9" y2="143.53" stroke="#a0a0a0" stroke-width="1.1" />
<text x="0" y="0" font-size="5.95" text-anchor="end" font-weight="normal" fill="#1e1e1e" color="#1e1e1e" transform="translate(29.7 144.78) scale(1 1.12)" >10</text>
<line x1="30.3" y1="131.56" x2="31.9" y2="131.56" stroke="#a0a0a0" stroke-width="1.1" />
<text x="0" y="0" font-size="5.95" text-anchor="end" font-weight="normal" fill="#1e1e1e" color="#1e1e1e" transform="translate(29.7 132.81) scale(1 1.12)" >20</text>
<line x1="30.3" y1="119.59" x2="31.9" y2="119.59" stroke="#a0a0a0" stroke-width="1.1" />
<text x="0" y="0" font-size="5.95" text-anchor="end" font-weight="normal" fill="#1e1e1e" color="#1e1e1e" transform="translate(29.7 120.84) scale(1 1.12)" >30</text>
<line x1="30.3" y1="107.62" x2="31.9" y2="107.62" stroke="#a0a0a0" stroke-width="1.1" />
<text x="0" y="0" font-size="5.95" text-anchor="end" font-weight="normal" fill="#1e1e1e" color="#1e1e1e" transform="translate(29.7 108.87) scale(1 1.12)" >40</text>
<line x1="30.3" y1="95.65" x2="31.9" y2="95.65" stroke="#a0a0a0" stroke-width="1.1" />
<text x="0" y="0" font-size="5.95" text-anchor="end" font-weight="normal" fill="#1e1e1e" color="#1e1e1e" transform="translate(29.7 96.9) scale(1 1.12)" >50</text>
<line x1="31.9" y1="155.7" x2="122" y2="155.7" stroke="#a0a0a0" stroke-width="1.5" />
<line x1="45.8" y1="155.5" x2="45.8" y2="156.8" stroke="#a0a0a0" stroke-width="0.7" />
<text x="48.2" y="160.9" font-size="5.85" text-anchor="end" font-weight="normal" fill="#111" color="#111" transform="rotate(-45 48.2 160.9)" style="stroke-width:0.28px">Pre-reinfection</text>
<line x1="66.6" y1="155.5" x2="66.6" y2="156.8" stroke="#a0a0a0" stroke-width="0.7" />
<text x="69" y="160.9" font-size="5.85" text-anchor="end" font-weight="normal" fill="#111" color="#111" transform="rotate(-45 69 160.9)" style="stroke-width:0.28px">Early acute</text>
<line x1="87.4" y1="155.5" x2="87.4" y2="156.8" stroke="#a0a0a0" stroke-width="0.7" />
<text x="89.8" y="160.9" font-size="5.85" text-anchor="end" font-weight="normal" fill="#111" color="#111" transform="rotate(-45 89.8 160.9)" style="stroke-width:0.28px">Late acute</text>
<line x1="108.4" y1="155.5" x2="108.4" y2="156.8" stroke="#a0a0a0" stroke-width="0.7" />
<text x="110.8" y="160.9" font-size="5.85" text-anchor="end" font-weight="normal" fill="#111" color="#111" transform="rotate(-45 110.8 160.9)" style="stroke-width:0.28px">Follow-up</text>
<line x1="56.2" y1="95.5" x2="56.2" y2="155.5" stroke="#888" stroke-width="0.9" stroke-dasharray="1.1 1.3"/>
<text x="12.2" y="123.5" font-size="5.5" text-anchor="middle" font-weight="normal" fill="#1e1e1e" color="#1e1e1e" transform="rotate(-90 12.2 123.5)" >ICOS<tspan font-size="70%" dy="-2">+</tspan><tspan dy="2"> </tspan>FoxP3<tspan font-size="70%" dy="-2">+</tspan></text>
<text x="18.4" y="123.5" font-size="5.9" text-anchor="middle" font-weight="normal" fill="#1e1e1e" color="#1e1e1e" transform="rotate(-90 18.4 123.5)" >% of cTfh</text>
<polyline points="45.8,142.81 66.6,117.2 87.4,136.35 108.4,129.76" fill="none" stroke="#111" stroke-width="1.05"/>
<circle cx="45.8" cy="142.81" r="1.4" fill="#111" stroke="none" stroke-width="0.5"/>
<circle cx="66.6" cy="117.2" r="1.4" fill="#111" stroke="none" stroke-width="0.5"/>
<circle cx="87.4" cy="136.35" r="1.4" fill="#111" stroke="none" stroke-width="0.5"/>
<circle cx="108.4" cy="129.76" r="1.4" fill="#111" stroke="none" stroke-width="0.5"/>
<polyline points="66.6,106.42 87.4,145.33 108.4,151.91" fill="none" stroke="#111" stroke-width="1.05"/>
<circle cx="66.6" cy="106.42" r="1.4" fill="#111" stroke="none" stroke-width="0.5"/>
<circle cx="87.4" cy="145.33" r="1.4" fill="#111" stroke="none" stroke-width="0.5"/>
<circle cx="108.4" cy="151.91" r="1.4" fill="#111" stroke="none" stroke-width="0.5"/>
<polyline points="66.6,123.18 87.4,147.12 108.4,152.51" fill="none" stroke="#111" stroke-width="1.05"/>
<circle cx="66.6" cy="123.18" r="1.4" fill="#111" stroke="none" stroke-width="0.5"/>
<circle cx="87.4" cy="147.12" r="1.4" fill="#111" stroke="none" stroke-width="0.5"/>
<circle cx="108.4" cy="152.51" r="1.4" fill="#111" stroke="none" stroke-width="0.5"/>
<polyline points="66.6,125.58 87.4,142.33 108.4,145.92" fill="none" stroke="#111" stroke-width="1.05"/>
<circle cx="66.6" cy="125.58" r="1.4" fill="#111" stroke="none" stroke-width="0.5"/>
<circle cx="87.4" cy="142.33" r="1.4" fill="#111" stroke="none" stroke-width="0.5"/>
<circle cx="108.4" cy="145.92" r="1.4" fill="#111" stroke="none" stroke-width="0.5"/>
<polyline points="66.6,127.97 87.4,148.92 108.4,150.71" fill="none" stroke="#111" stroke-width="1.05"/>
<circle cx="66.6" cy="127.97" r="1.4" fill="#111" stroke="none" stroke-width="0.5"/>
<circle cx="87.4" cy="148.92" r="1.4" fill="#111" stroke="none" stroke-width="0.5"/>
<circle cx="108.4" cy="150.71" r="1.4" fill="#111" stroke="none" stroke-width="0.5"/>
<polyline points="45.8,147.12 66.6,143.53 87.4,142.33 108.4,145.92" fill="none" stroke="#111" stroke-width="1.05"/>
<circle cx="45.8" cy="147.12" r="1.4" fill="#111" stroke="none" stroke-width="0.5"/>
<circle cx="66.6" cy="143.53" r="1.4" fill="#111" stroke="none" stroke-width="0.5"/>
<circle cx="87.4" cy="142.33" r="1.4" fill="#111" stroke="none" stroke-width="0.5"/>
<circle cx="108.4" cy="145.92" r="1.4" fill="#111" stroke="none" stroke-width="0.5"/>
<polyline points="45.8,147.72 66.6,146.52 87.4,144.13 108.4,147.72" fill="none" stroke="#111" stroke-width="1.05"/>
<circle cx="45.8" cy="147.72" r="1.4" fill="#111" stroke="none" stroke-width="0.5"/>
<circle cx="66.6" cy="146.52" r="1.4" fill="#111" stroke="none" stroke-width="0.5"/>
<circle cx="87.4" cy="144.13" r="1.4" fill="#111" stroke="none" stroke-width="0.5"/>
<circle cx="108.4" cy="147.72" r="1.4" fill="#111" stroke="none" stroke-width="0.5"/>
<polyline points="45.8,148.32 66.6,148.32 87.4,147.72 108.4,150.11" fill="none" stroke="#111" stroke-width="1.05"/>
<circle cx="45.8" cy="148.32" r="1.4" fill="#111" stroke="none" stroke-width="0.5"/>
<circle cx="66.6" cy="148.32" r="1.4" fill="#111" stroke="none" stroke-width="0.5"/>
<circle cx="87.4" cy="147.72" r="1.4" fill="#111" stroke="none" stroke-width="0.5"/>
<circle cx="108.4" cy="150.11" r="1.4" fill="#111" stroke="none" stroke-width="0.5"/>
<polyline points="45.8,148.92 66.6,150.11 87.4,150.11 108.4,151.91" fill="none" stroke="#111" stroke-width="1.05"/>
<circle cx="45.8" cy="148.92" r="1.4" fill="#111" stroke="none" stroke-width="0.5"/>
<circle cx="66.6" cy="150.11" r="1.4" fill="#111" stroke="none" stroke-width="0.5"/>
<circle cx="87.4" cy="150.11" r="1.4" fill="#111" stroke="none" stroke-width="0.5"/>
<circle cx="108.4" cy="151.91" r="1.4" fill="#111" stroke="none" stroke-width="0.5"/>
<polyline points="45.8,153.11 66.6,151.91 87.4,152.51 108.4,153.7" fill="none" stroke="#111" stroke-width="1.05"/>
<circle cx="45.8" cy="153.11" r="1.4" fill="#111" stroke="none" stroke-width="0.5"/>
<circle cx="66.6" cy="151.91" r="1.4" fill="#111" stroke="none" stroke-width="0.5"/>
<circle cx="87.4" cy="152.51" r="1.4" fill="#111" stroke="none" stroke-width="0.5"/>
<circle cx="108.4" cy="153.7" r="1.4" fill="#111" stroke="none" stroke-width="0.5"/>
<polyline points="66.6,152.87 87.4,153.94 108.4,154.78" fill="none" stroke="#111" stroke-width="1.05"/>
<circle cx="66.6" cy="152.87" r="1.4" fill="#111" stroke="none" stroke-width="0.5"/>
<circle cx="87.4" cy="153.94" r="1.4" fill="#111" stroke="none" stroke-width="0.5"/>
<circle cx="108.4" cy="154.78" r="1.4" fill="#111" stroke="none" stroke-width="0.5"/>
<line x1="157.5" y1="95.75" x2="157.5" y2="156.1" stroke="#a0a0a0" stroke-width="1.35" />
<line x1="155.9" y1="155.6" x2="157.5" y2="155.6" stroke="#a0a0a0" stroke-width="1.1" />
<text x="0" y="0" font-size="5.95" text-anchor="end" font-weight="normal" fill="#1e1e1e" color="#1e1e1e" transform="translate(155.3 156.85) scale(1 1.12)" >0</text>
<line x1="155.9" y1="143.63" x2="157.5" y2="143.63" stroke="#a0a0a0" stroke-width="1.1" />
<text x="0" y="0" font-size="5.95" text-anchor="end" font-weight="normal" fill="#1e1e1e" color="#1e1e1e" transform="translate(155.3 144.88) scale(1 1.12)" >10</text>
<line x1="155.9" y1="131.66" x2="157.5" y2="131.66" stroke="#a0a0a0" stroke-width="1.1" />
<text x="0" y="0" font-size="5.95" text-anchor="end" font-weight="normal" fill="#1e1e1e" color="#1e1e1e" transform="translate(155.3 132.91) scale(1 1.12)" >20</text>
<line x1="155.9" y1="119.69" x2="157.5" y2="119.69" stroke="#a0a0a0" stroke-width="1.1" />
<text x="0" y="0" font-size="5.95" text-anchor="end" font-weight="normal" fill="#1e1e1e" color="#1e1e1e" transform="translate(155.3 120.94) scale(1 1.12)" >30</text>
<line x1="155.9" y1="107.72" x2="157.5" y2="107.72" stroke="#a0a0a0" stroke-width="1.1" />
<text x="0" y="0" font-size="5.95" text-anchor="end" font-weight="normal" fill="#1e1e1e" color="#1e1e1e" transform="translate(155.3 108.97) scale(1 1.12)" >40</text>
<line x1="155.9" y1="95.75" x2="157.5" y2="95.75" stroke="#a0a0a0" stroke-width="1.1" />
<text x="0" y="0" font-size="5.95" text-anchor="end" font-weight="normal" fill="#1e1e1e" color="#1e1e1e" transform="translate(155.3 97) scale(1 1.12)" >50</text>
<line x1="157.5" y1="155.8" x2="247" y2="155.8" stroke="#a0a0a0" stroke-width="1.5" />
<line x1="170.7" y1="155.6" x2="170.7" y2="156.9" stroke="#a0a0a0" stroke-width="0.7" />
<text x="173.1" y="161" font-size="5.85" text-anchor="end" font-weight="normal" fill="#111" color="#111" transform="rotate(-45 173.1 161)" style="stroke-width:0.28px">Pre-reinfection</text>
<line x1="191.5" y1="155.6" x2="191.5" y2="156.9" stroke="#a0a0a0" stroke-width="0.7" />
<text x="193.9" y="161" font-size="5.85" text-anchor="end" font-weight="normal" fill="#111" color="#111" transform="rotate(-45 193.9 161)" style="stroke-width:0.28px">Early acute</text>
<line x1="212.3" y1="155.6" x2="212.3" y2="156.9" stroke="#a0a0a0" stroke-width="0.7" />
<text x="214.7" y="161" font-size="5.85" text-anchor="end" font-weight="normal" fill="#111" color="#111" transform="rotate(-45 214.7 161)" style="stroke-width:0.28px">Late acute</text>
<line x1="233" y1="155.6" x2="233" y2="156.9" stroke="#a0a0a0" stroke-width="0.7" />
<text x="235.4" y="161" font-size="5.85" text-anchor="end" font-weight="normal" fill="#111" color="#111" transform="rotate(-45 235.4 161)" style="stroke-width:0.28px">Follow-up</text>
<line x1="181" y1="95.5" x2="181" y2="155.6" stroke="#888" stroke-width="0.9" stroke-dasharray="1.1 1.3"/>
<text x="136.6" y="123.5" font-size="5.5" text-anchor="middle" font-weight="normal" fill="#1e1e1e" color="#1e1e1e" transform="rotate(-90 136.6 123.5)" >ICOS<tspan font-size="70%" dy="-2">+</tspan><tspan dy="2"> </tspan>FoxP3<tspan font-size="70%" dy="-2">+</tspan></text>
<text x="143.6" y="123.5" font-size="5.9" text-anchor="middle" font-weight="normal" fill="#1e1e1e" color="#1e1e1e" transform="rotate(-90 143.6 123.5)" >% of cTfh</text>
<polyline points="170.7,153.21 191.5,131.66 212.3,131.66 233,152.01" fill="none" stroke="#dc3330" stroke-width="1.05"/>
<circle cx="170.7" cy="153.21" r="1.3" fill="#dc3330" stroke="none" stroke-width="0.5"/>
<circle cx="191.5" cy="131.66" r="1.3" fill="#dc3330" stroke="none" stroke-width="0.5"/>
<circle cx="212.3" cy="131.66" r="1.3" fill="#dc3330" stroke="none" stroke-width="0.5"/>
<circle cx="233" cy="152.01" r="1.3" fill="#dc3330" stroke="none" stroke-width="0.5"/>
<polyline points="170.7,142.43 191.5,152.37 212.3,152.01 233,136.45" fill="none" stroke="#dc3330" stroke-width="1.05"/>
<circle cx="170.7" cy="142.43" r="1.3" fill="#dc3330" stroke="none" stroke-width="0.5"/>
<circle cx="191.5" cy="152.37" r="1.3" fill="#dc3330" stroke="none" stroke-width="0.5"/>
<circle cx="212.3" cy="152.01" r="1.3" fill="#dc3330" stroke="none" stroke-width="0.5"/>
<circle cx="233" cy="136.45" r="1.3" fill="#dc3330" stroke="none" stroke-width="0.5"/>
<polyline points="170.7,146.02 191.5,136.45 212.3,131.66 233,146.62" fill="none" stroke="#dc3330" stroke-width="1.05"/>
<circle cx="170.7" cy="146.02" r="1.3" fill="#dc3330" stroke="none" stroke-width="0.5"/>
<circle cx="191.5" cy="136.45" r="1.3" fill="#dc3330" stroke="none" stroke-width="0.5"/>
<circle cx="212.3" cy="131.66" r="1.3" fill="#dc3330" stroke="none" stroke-width="0.5"/>
<circle cx="233" cy="146.62" r="1.3" fill="#dc3330" stroke="none" stroke-width="0.5"/>
<polyline points="170.7,146.02 191.5,141.83 212.3,142.43 233,146.62" fill="none" stroke="#dc3330" stroke-width="1.05"/>
<circle cx="170.7" cy="146.02" r="1.3" fill="#dc3330" stroke="none" stroke-width="0.5"/>
<circle cx="191.5" cy="141.83" r="1.3" fill="#dc3330" stroke="none" stroke-width="0.5"/>
<circle cx="212.3" cy="142.43" r="1.3" fill="#dc3330" stroke="none" stroke-width="0.5"/>
<circle cx="233" cy="146.62" r="1.3" fill="#dc3330" stroke="none" stroke-width="0.5"/>
<polyline points="170.7,147.22 191.5,144.23 212.3,146.62 233,152.01" fill="none" stroke="#dc3330" stroke-width="1.05"/>
<circle cx="170.7" cy="147.22" r="1.3" fill="#dc3330" stroke="none" stroke-width="0.5"/>
<circle cx="191.5" cy="144.23" r="1.3" fill="#dc3330" stroke="none" stroke-width="0.5"/>
<circle cx="212.3" cy="146.62" r="1.3" fill="#dc3330" stroke="none" stroke-width="0.5"/>
<circle cx="233" cy="152.01" r="1.3" fill="#dc3330" stroke="none" stroke-width="0.5"/>
<polyline points="170.7,153.21 191.5,146.02 212.3,152.01 233,152.01" fill="none" stroke="#dc3330" stroke-width="1.05"/>
<circle cx="170.7" cy="153.21" r="1.3" fill="#dc3330" stroke="none" stroke-width="0.5"/>
<circle cx="191.5" cy="146.02" r="1.3" fill="#dc3330" stroke="none" stroke-width="0.5"/>
<circle cx="212.3" cy="152.01" r="1.3" fill="#dc3330" stroke="none" stroke-width="0.5"/>
<circle cx="233" cy="152.01" r="1.3" fill="#dc3330" stroke="none" stroke-width="0.5"/>
<polyline points="170.7,153.8 191.5,152.37 212.3,152.01 233,152.37" fill="none" stroke="#dc3330" stroke-width="1.05"/>
<circle cx="170.7" cy="153.8" r="1.3" fill="#dc3330" stroke="none" stroke-width="0.5"/>
<circle cx="191.5" cy="152.37" r="1.3" fill="#dc3330" stroke="none" stroke-width="0.5"/>
<circle cx="212.3" cy="152.01" r="1.3" fill="#dc3330" stroke="none" stroke-width="0.5"/>
<circle cx="233" cy="152.37" r="1.3" fill="#dc3330" stroke="none" stroke-width="0.5"/>
<circle cx="170.7" cy="142.43" r="1.4" fill="#fff" stroke="#dc3330" stroke-width="0.8"/>
<rect x="231.7" y="139.94" width="2.6" height="2.6" fill="#dc3330" stroke="none" stroke-width="0.7" />
<line x1="281" y1="95.4" x2="281" y2="155.7" stroke="#a0a0a0" stroke-width="1.35" />
<line x1="279.4" y1="155.2" x2="281" y2="155.2" stroke="#a0a0a0" stroke-width="1.1" />
<text x="0" y="0" font-size="5.95" text-anchor="end" font-weight="normal" fill="#1e1e1e" color="#1e1e1e" transform="translate(278.8 156.45) scale(1 1.12)" >0</text>
<line x1="279.4" y1="143.24" x2="281" y2="143.24" stroke="#a0a0a0" stroke-width="1.1" />
<text x="0" y="0" font-size="5.95" text-anchor="end" font-weight="normal" fill="#1e1e1e" color="#1e1e1e" transform="translate(278.8 144.49) scale(1 1.12)" >10</text>
<line x1="279.4" y1="131.28" x2="281" y2="131.28" stroke="#a0a0a0" stroke-width="1.1" />
<text x="0" y="0" font-size="5.95" text-anchor="end" font-weight="normal" fill="#1e1e1e" color="#1e1e1e" transform="translate(278.8 132.53) scale(1 1.12)" >20</text>
<line x1="279.4" y1="119.32" x2="281" y2="119.32" stroke="#a0a0a0" stroke-width="1.1" />
<text x="0" y="0" font-size="5.95" text-anchor="end" font-weight="normal" fill="#1e1e1e" color="#1e1e1e" transform="translate(278.8 120.57) scale(1 1.12)" >30</text>
<line x1="279.4" y1="107.36" x2="281" y2="107.36" stroke="#a0a0a0" stroke-width="1.1" />
<text x="0" y="0" font-size="5.95" text-anchor="end" font-weight="normal" fill="#1e1e1e" color="#1e1e1e" transform="translate(278.8 108.61) scale(1 1.12)" >40</text>
<line x1="279.4" y1="95.4" x2="281" y2="95.4" stroke="#a0a0a0" stroke-width="1.1" />
<text x="0" y="0" font-size="5.95" text-anchor="end" font-weight="normal" fill="#1e1e1e" color="#1e1e1e" transform="translate(278.8 96.65) scale(1 1.12)" >50</text>
<line x1="281" y1="155.4" x2="372" y2="155.4" stroke="#a0a0a0" stroke-width="1.5" />
<line x1="291.2" y1="155.2" x2="291.2" y2="156.5" stroke="#a0a0a0" stroke-width="0.7" />
<text x="294.1" y="161.8" font-size="5.85" text-anchor="end" font-weight="normal" fill="#111" color="#111" transform="rotate(-45 294.1 161.8)" style="stroke-width:0.28px">Pre-reinfection</text>
<line x1="314.5" y1="155.2" x2="314.5" y2="156.5" stroke="#a0a0a0" stroke-width="0.7" />
<text x="317.4" y="161.8" font-size="5.85" text-anchor="end" font-weight="normal" fill="#111" color="#111" transform="rotate(-45 317.4 161.8)" style="stroke-width:0.28px">Early acute</text>
<line x1="338" y1="155.2" x2="338" y2="156.5" stroke="#a0a0a0" stroke-width="0.7" />
<text x="340.9" y="161.8" font-size="5.85" text-anchor="end" font-weight="normal" fill="#111" color="#111" transform="rotate(-45 340.9 161.8)" style="stroke-width:0.28px">Late acute</text>
<line x1="361.5" y1="155.2" x2="361.5" y2="156.5" stroke="#a0a0a0" stroke-width="0.7" />
<text x="364.4" y="161.8" font-size="5.85" text-anchor="end" font-weight="normal" fill="#111" color="#111" transform="rotate(-45 364.4 161.8)" style="stroke-width:0.28px">Follow-up</text>
<line x1="303.5" y1="95.5" x2="303.5" y2="155.2" stroke="#7a6a66" stroke-width="0.9" stroke-dasharray="1.1 1.3"/>
<text x="262" y="123.5" font-size="5.5" text-anchor="middle" font-weight="normal" fill="#1e1e1e" color="#1e1e1e" transform="rotate(-90 262 123.5)" >ICOS<tspan font-size="70%" dy="-2">+</tspan><tspan dy="2"> </tspan>FoxP3<tspan font-size="70%" dy="-2">+</tspan></text>
<text x="268.9" y="123.5" font-size="5.9" text-anchor="middle" font-weight="normal" fill="#1e1e1e" color="#1e1e1e" transform="rotate(-90 268.9 123.5)" >% of cTfh</text>
<circle cx="287" cy="142.88" r="1.55" fill="#111" stroke="none" stroke-width="0.5"/>
<circle cx="286.2" cy="145.63" r="1.55" fill="#111" stroke="none" stroke-width="0.5"/>
<circle cx="287.9" cy="147.07" r="1.55" fill="#111" stroke="none" stroke-width="0.5"/>
<circle cx="286.4" cy="148.26" r="1.55" fill="#111" stroke="none" stroke-width="0.5"/>
<circle cx="287.8" cy="149.7" r="1.55" fill="#111" stroke="none" stroke-width="0.5"/>
<circle cx="286.1" cy="151.13" r="1.55" fill="#111" stroke="none" stroke-width="0.5"/>
<circle cx="287.9" cy="152.57" r="1.55" fill="#111" stroke="none" stroke-width="0.5"/>
<circle cx="285.6" cy="153.76" r="1.55" fill="#111" stroke="none" stroke-width="0.5"/>
<circle cx="288.5" cy="154.24" r="1.55" fill="#111" stroke="none" stroke-width="0.5"/>
<circle cx="287" cy="153.41" r="1.55" fill="#111" stroke="none" stroke-width="0.5"/>
<line x1="284.4" y1="148.26" x2="289.6" y2="148.26" stroke="#111" stroke-width="0.8" />
<rect x="294.05" y="141.55" width="2.9" height="2.9" fill="#dc3330" stroke="none" stroke-width="0.7" />
<rect x="294.55" y="143.23" width="2.9" height="2.9" fill="#dc3330" stroke="none" stroke-width="0.7" />
<rect x="293.55" y="144.9" width="2.9" height="2.9" fill="#dc3330" stroke="none" stroke-width="0.7" />
<rect x="294.45" y="147.05" width="2.9" height="2.9" fill="#dc3330" stroke="none" stroke-width="0.7" />
<rect x="293.25" y="149.21" width="2.9" height="2.9" fill="#dc3330" stroke="none" stroke-width="0.7" />
<rect x="294.95" y="150.64" width="2.9" height="2.9" fill="#dc3330" stroke="none" stroke-width="0.7" />
<rect x="293.55" y="152.31" width="2.9" height="2.9" fill="#dc3330" stroke="none" stroke-width="0.7" />
<rect x="295.25" y="152.67" width="2.9" height="2.9" fill="#dc3330" stroke="none" stroke-width="0.7" />
<line x1="292.9" y1="148.98" x2="298.1" y2="148.98" stroke="#dc3330" stroke-width="0.8" />
<line x1="310.3" y1="127.09" x2="310.3" y2="151.01" stroke="#111" stroke-width="0.9" />
<circle cx="310.3" cy="106.16" r="1.55" fill="#111" stroke="none" stroke-width="0.5"/>
<circle cx="310.3" cy="116.93" r="1.55" fill="#111" stroke="none" stroke-width="0.5"/>
<circle cx="310.3" cy="122.91" r="1.55" fill="#111" stroke="none" stroke-width="0.5"/>
<circle cx="310.6" cy="125.3" r="1.55" fill="#111" stroke="none" stroke-width="0.5"/>
<circle cx="310" cy="127.33" r="1.55" fill="#111" stroke="none" stroke-width="0.5"/>
<circle cx="310.6" cy="143.48" r="1.55" fill="#111" stroke="none" stroke-width="0.5"/>
<circle cx="309.3" cy="144.91" r="1.55" fill="#111" stroke="none" stroke-width="0.5"/>
<circle cx="311.2" cy="146.35" r="1.55" fill="#111" stroke="none" stroke-width="0.5"/>
<circle cx="309.7" cy="147.67" r="1.55" fill="#111" stroke="none" stroke-width="0.5"/>
<circle cx="311.3" cy="148.98" r="1.55" fill="#111" stroke="none" stroke-width="0.5"/>
<circle cx="309.5" cy="150.42" r="1.55" fill="#111" stroke="none" stroke-width="0.5"/>
<circle cx="310.8" cy="151.61" r="1.55" fill="#111" stroke="none" stroke-width="0.5"/>
<circle cx="310.1" cy="152.81" r="1.55" fill="#111" stroke="none" stroke-width="0.5"/>
<line x1="307.7" y1="146.35" x2="312.9" y2="146.35" stroke="#111" stroke-width="0.8" />
<rect x="317.35" y="129.23" width="2.9" height="2.9" fill="#dc3330" stroke="none" stroke-width="0.7" />
<rect x="317.35" y="135.21" width="2.9" height="2.9" fill="#dc3330" stroke="none" stroke-width="0.7" />
<rect x="317.35" y="139.76" width="2.9" height="2.9" fill="#dc3330" stroke="none" stroke-width="0.7" />
<rect x="316.55" y="142.39" width="2.9" height="2.9" fill="#dc3330" stroke="none" stroke-width="0.7" />
<rect x="318.25" y="143.82" width="2.9" height="2.9" fill="#dc3330" stroke="none" stroke-width="0.7" />
<rect x="317.35" y="145.62" width="2.9" height="2.9" fill="#dc3330" stroke="none" stroke-width="0.7" />
<rect x="317.35" y="150.88" width="2.9" height="2.9" fill="#dc3330" stroke="none" stroke-width="0.7" />
<line x1="316.2" y1="144.56" x2="321.4" y2="144.56" stroke="#dc3330" stroke-width="0.8" />
<circle cx="333.8" cy="134.99" r="1.55" fill="#111" stroke="none" stroke-width="0.5"/>
<circle cx="334.1" cy="137.02" r="1.55" fill="#111" stroke="none" stroke-width="0.5"/>
<circle cx="333.4" cy="139.17" r="1.55" fill="#111" stroke="none" stroke-width="0.5"/>
<circle cx="334.1" cy="141.45" r="1.55" fill="#111" stroke="none" stroke-width="0.5"/>
<circle cx="333.2" cy="143.72" r="1.55" fill="#111" stroke="none" stroke-width="0.5"/>
<circle cx="334.5" cy="145.39" r="1.55" fill="#111" stroke="none" stroke-width="0.5"/>
<circle cx="333.3" cy="147.07" r="1.55" fill="#111" stroke="none" stroke-width="0.5"/>
<circle cx="334.3" cy="148.62" r="1.55" fill="#111" stroke="none" stroke-width="0.5"/>
<circle cx="333.2" cy="150.18" r="1.55" fill="#111" stroke="none" stroke-width="0.5"/>
<circle cx="334.4" cy="151.73" r="1.55" fill="#111" stroke="none" stroke-width="0.5"/>
<circle cx="333.6" cy="153.53" r="1.55" fill="#111" stroke="none" stroke-width="0.5"/>
<line x1="331.2" y1="146.35" x2="336.4" y2="146.35" stroke="#111" stroke-width="0.8" />
<line x1="342.3" y1="131.52" x2="342.3" y2="146.83" stroke="#dc3330" stroke-width="0.9" />
<line x1="339.7" y1="131.52" x2="344.9" y2="131.52" stroke="#dc3330" stroke-width="0.9" />
<rect x="339.85" y="130.31" width="2.9" height="2.9" fill="#dc3330" stroke="none" stroke-width="0.7" />
<rect x="342.05" y="130.31" width="2.9" height="2.9" fill="#dc3330" stroke="none" stroke-width="0.7" />
<rect x="340.85" y="141.19" width="2.9" height="2.9" fill="#dc3330" stroke="none" stroke-width="0.7" />
<rect x="339.95" y="144.18" width="2.9" height="2.9" fill="#dc3330" stroke="none" stroke-width="0.7" />
<rect x="341.85" y="145.38" width="2.9" height="2.9" fill="#dc3330" stroke="none" stroke-width="0.7" />
<rect x="340.35" y="149.32" width="2.9" height="2.9" fill="#dc3330" stroke="none" stroke-width="0.7" />
<rect x="341.45" y="151.6" width="2.9" height="2.9" fill="#dc3330" stroke="none" stroke-width="0.7" />
<line x1="339.7" y1="146.83" x2="344.9" y2="146.83" stroke="#dc3330" stroke-width="0.8" />
<circle cx="357.3" cy="130.08" r="1.55" fill="#111" stroke="none" stroke-width="0.5"/>
<circle cx="357.3" cy="145.63" r="1.55" fill="#111" stroke="none" stroke-width="0.5"/>
<circle cx="356.7" cy="147.43" r="1.55" fill="#111" stroke="none" stroke-width="0.5"/>
<circle cx="358" cy="148.98" r="1.55" fill="#111" stroke="none" stroke-width="0.5"/>
<circle cx="356.3" cy="150.42" r="1.55" fill="#111" stroke="none" stroke-width="0.5"/>
<circle cx="358.2" cy="151.85" r="1.55" fill="#111" stroke="none" stroke-width="0.5"/>
<circle cx="356" cy="153.41" r="1.55" fill="#111" stroke="none" stroke-width="0.5"/>
<circle cx="358.6" cy="154.12" r="1.55" fill="#111" stroke="none" stroke-width="0.5"/>
<circle cx="357.3" cy="153.76" r="1.55" fill="#111" stroke="none" stroke-width="0.5"/>
<line x1="354.7" y1="149.22" x2="359.9" y2="149.22" stroke="#111" stroke-width="0.8" />
<rect x="364.35" y="135.57" width="2.9" height="2.9" fill="#dc3330" stroke="none" stroke-width="0.7" />
<rect x="363.95" y="139.16" width="2.9" height="2.9" fill="#dc3330" stroke="none" stroke-width="0.7" />
<rect x="365.15" y="140" width="2.9" height="2.9" fill="#dc3330" stroke="none" stroke-width="0.7" />
<rect x="364.35" y="142.51" width="2.9" height="2.9" fill="#dc3330" stroke="none" stroke-width="0.7" />
<rect x="363.55" y="145.62" width="2.9" height="2.9" fill="#dc3330" stroke="none" stroke-width="0.7" />
<rect x="365.15" y="147.05" width="2.9" height="2.9" fill="#dc3330" stroke="none" stroke-width="0.7" />
<rect x="364.35" y="148.61" width="2.9" height="2.9" fill="#dc3330" stroke="none" stroke-width="0.7" />
<rect x="363.55" y="150.4" width="2.9" height="2.9" fill="#dc3330" stroke="none" stroke-width="0.7" />
<rect x="365.25" y="151.6" width="2.9" height="2.9" fill="#dc3330" stroke="none" stroke-width="0.7" />
<line x1="363.2" y1="147.31" x2="368.4" y2="147.31" stroke="#dc3330" stroke-width="0.8" />
<circle cx="375" cy="90.3" r="1.5" fill="#111" stroke="none" stroke-width="0.5"/>
<text x="0" y="0" font-size="6" text-anchor="start" font-weight="normal" fill="#2a2a2a" color="#2a2a2a" transform="translate(379.5 92.05) scale(1 1.12)" >SR/SR</text>
<rect x="372.8" y="95.3" width="2.8" height="2.8" fill="#dc3330" stroke="none" stroke-width="0.7" />
<text x="0" y="0" font-size="6" text-anchor="start" font-weight="normal" fill="#2a2a2a" color="#2a2a2a" transform="translate(379.5 98.85) scale(1 1.12)" >SR/CI</text>
<line x1="31.2" y1="202.3" x2="31.2" y2="262.8" stroke="#a0a0a0" stroke-width="1.35" />
<line x1="29.6" y1="262.3" x2="31.2" y2="262.3" stroke="#a0a0a0" stroke-width="1.1" />
<text x="0" y="0" font-size="5.95" text-anchor="end" font-weight="normal" fill="#1e1e1e" color="#1e1e1e" transform="translate(29 263.55) scale(1 1.12)" >0</text>
<line x1="29.6" y1="250.3" x2="31.2" y2="250.3" stroke="#a0a0a0" stroke-width="1.1" />
<text x="0" y="0" font-size="5.95" text-anchor="end" font-weight="normal" fill="#1e1e1e" color="#1e1e1e" transform="translate(29 251.55) scale(1 1.12)" >10</text>
<line x1="29.6" y1="238.3" x2="31.2" y2="238.3" stroke="#a0a0a0" stroke-width="1.1" />
<text x="0" y="0" font-size="5.95" text-anchor="end" font-weight="normal" fill="#1e1e1e" color="#1e1e1e" transform="translate(29 239.55) scale(1 1.12)" >20</text>
<line x1="29.6" y1="226.3" x2="31.2" y2="226.3" stroke="#a0a0a0" stroke-width="1.1" />
<text x="0" y="0" font-size="5.95" text-anchor="end" font-weight="normal" fill="#1e1e1e" color="#1e1e1e" transform="translate(29 227.55) scale(1 1.12)" >30</text>
<line x1="29.6" y1="214.3" x2="31.2" y2="214.3" stroke="#a0a0a0" stroke-width="1.1" />
<text x="0" y="0" font-size="5.95" text-anchor="end" font-weight="normal" fill="#1e1e1e" color="#1e1e1e" transform="translate(29 215.55) scale(1 1.12)" >40</text>
<line x1="29.6" y1="202.3" x2="31.2" y2="202.3" stroke="#a0a0a0" stroke-width="1.1" />
<text x="0" y="0" font-size="5.95" text-anchor="end" font-weight="normal" fill="#1e1e1e" color="#1e1e1e" transform="translate(29 203.55) scale(1 1.12)" >50</text>
<line x1="31.2" y1="262.3" x2="118.2" y2="262.3" stroke="#a0a0a0" stroke-width="1.1" />
<line x1="31.2" y1="262.3" x2="31.2" y2="263.8" stroke="#a0a0a0" stroke-width="0.8" />
<text x="0" y="0" font-size="5.95" text-anchor="middle" font-weight="normal" fill="#1e1e1e" color="#1e1e1e" transform="translate(31.9 269.75) scale(1 1.12)" >0</text>
<line x1="45.7" y1="262.3" x2="45.7" y2="263.8" stroke="#a0a0a0" stroke-width="0.8" />
<text x="0" y="0" font-size="5.95" text-anchor="middle" font-weight="normal" fill="#1e1e1e" color="#1e1e1e" transform="translate(46.4 269.75) scale(1 1.12)" >100</text>
<line x1="60.2" y1="262.3" x2="60.2" y2="263.8" stroke="#a0a0a0" stroke-width="0.8" />
<text x="0" y="0" font-size="5.95" text-anchor="middle" font-weight="normal" fill="#1e1e1e" color="#1e1e1e" transform="translate(60.9 269.75) scale(1 1.12)" >200</text>
<line x1="74.7" y1="262.3" x2="74.7" y2="263.8" stroke="#a0a0a0" stroke-width="0.8" />
<text x="0" y="0" font-size="5.95" text-anchor="middle" font-weight="normal" fill="#1e1e1e" color="#1e1e1e" transform="translate(75.4 269.75) scale(1 1.12)" >300</text>
<line x1="89.2" y1="262.3" x2="89.2" y2="263.8" stroke="#a0a0a0" stroke-width="0.8" />
<text x="0" y="0" font-size="5.95" text-anchor="middle" font-weight="normal" fill="#1e1e1e" color="#1e1e1e" transform="translate(89.9 269.75) scale(1 1.12)" >400</text>
<line x1="103.7" y1="262.3" x2="103.7" y2="263.8" stroke="#a0a0a0" stroke-width="0.8" />
<text x="0" y="0" font-size="5.95" text-anchor="middle" font-weight="normal" fill="#1e1e1e" color="#1e1e1e" transform="translate(104.4 269.75) scale(1 1.12)" >500</text>
<line x1="118.2" y1="262.3" x2="118.2" y2="263.8" stroke="#a0a0a0" stroke-width="0.8" />
<text x="0" y="0" font-size="5.95" text-anchor="middle" font-weight="normal" fill="#1e1e1e" color="#1e1e1e" transform="translate(118.9 269.75) scale(1 1.12)" >600</text>
<text x="0" y="0" font-size="6" text-anchor="middle" font-weight="normal" fill="#1e1e1e" color="#1e1e1e" transform="translate(77 278.25) scale(1 1.12)" >EDI</text>
<text x="20.5" y="230.8" font-size="5.9" text-anchor="middle" font-weight="normal" fill="#1e1e1e" color="#1e1e1e" transform="rotate(-90 20.5 230.8)" >% Activated cTfh</text>
<line x1="31.2" y1="247.9" x2="103.7" y2="258.34" stroke="#333" stroke-width="0.8" />
<circle cx="41.2" cy="212.32" r="1.45" fill="#111" stroke="none" stroke-width="0.5"/>
<circle cx="38.02" cy="224.44" r="1.45" fill="#111" stroke="none" stroke-width="0.5"/>
<circle cx="39.03" cy="230.2" r="1.45" fill="#111" stroke="none" stroke-width="0.5"/>
<circle cx="40.34" cy="234.16" r="1.45" fill="#111" stroke="none" stroke-width="0.5"/>
<circle cx="32.94" cy="233.68" r="1.45" fill="#111" stroke="none" stroke-width="0.5"/>
<circle cx="46.57" cy="242.44" r="1.45" fill="#111" stroke="none" stroke-width="0.5"/>
<circle cx="50.48" cy="244.24" r="1.45" fill="#111" stroke="none" stroke-width="0.5"/>
<circle cx="53.96" cy="247.84" r="1.45" fill="#111" stroke="none" stroke-width="0.5"/>
<circle cx="52.8" cy="249.52" r="1.45" fill="#111" stroke="none" stroke-width="0.5"/>
<circle cx="60.05" cy="252.4" r="1.45" fill="#111" stroke="none" stroke-width="0.5"/>
<circle cx="65.42" cy="253.6" r="1.45" fill="#111" stroke="none" stroke-width="0.5"/>
<circle cx="33.52" cy="256" r="1.45" fill="#111" stroke="none" stroke-width="0.5"/>
<circle cx="39.03" cy="252.4" r="1.45" fill="#111" stroke="none" stroke-width="0.5"/>
<circle cx="39.46" cy="253.6" r="1.45" fill="#111" stroke="none" stroke-width="0.5"/>
<circle cx="38.02" cy="257.68" r="1.45" fill="#111" stroke="none" stroke-width="0.5"/>
<circle cx="41.2" cy="259.36" r="1.45" fill="#111" stroke="none" stroke-width="0.5"/>
<circle cx="47.15" cy="255.4" r="1.45" fill="#111" stroke="none" stroke-width="0.5"/>
<circle cx="48.74" cy="253" r="1.45" fill="#111" stroke="none" stroke-width="0.5"/>
<circle cx="48.02" cy="259.36" r="1.45" fill="#111" stroke="none" stroke-width="0.5"/>
<circle cx="52.8" cy="259" r="1.45" fill="#111" stroke="none" stroke-width="0.5"/>
<circle cx="53.09" cy="261.16" r="1.45" fill="#111" stroke="none" stroke-width="0.5"/>
<circle cx="57.88" cy="256" r="1.45" fill="#111" stroke="none" stroke-width="0.5"/>
<circle cx="62.52" cy="256" r="1.45" fill="#111" stroke="none" stroke-width="0.5"/>
<circle cx="64.69" cy="259.84" r="1.45" fill="#111" stroke="none" stroke-width="0.5"/>
<circle cx="65.86" cy="258.28" r="1.45" fill="#111" stroke="none" stroke-width="0.5"/>
<circle cx="76.58" cy="255.4" r="1.45" fill="#111" stroke="none" stroke-width="0.5"/>
<circle cx="91.81" cy="256.6" r="1.45" fill="#111" stroke="none" stroke-width="0.5"/>
<circle cx="92.82" cy="261.16" r="1.45" fill="#111" stroke="none" stroke-width="0.5"/>
<circle cx="98.33" cy="257.08" r="1.45" fill="#111" stroke="none" stroke-width="0.5"/>
<circle cx="101.09" cy="236.8" r="1.45" fill="#111" stroke="none" stroke-width="0.5"/>
<circle cx="103.84" cy="260.2" r="1.45" fill="#111" stroke="none" stroke-width="0.5"/>
<circle cx="39.9" cy="254.8" r="1.45" fill="#111" stroke="none" stroke-width="0.5"/>
<circle cx="51.5" cy="250.6" r="1.45" fill="#111" stroke="none" stroke-width="0.5"/>
<circle cx="31.63" cy="252.28" r="1.45" fill="#dc3330" stroke="none" stroke-width="0.5"/>
<circle cx="37.14" cy="248.92" r="1.45" fill="#dc3330" stroke="none" stroke-width="0.5"/>
<circle cx="39.03" cy="243.4" r="1.45" fill="#dc3330" stroke="none" stroke-width="0.5"/>
<circle cx="41.2" cy="238.6" r="1.45" fill="#dc3330" stroke="none" stroke-width="0.5"/>
<circle cx="40.19" cy="254.2" r="1.45" fill="#dc3330" stroke="none" stroke-width="0.5"/>
<circle cx="41.49" cy="259.12" r="1.45" fill="#dc3330" stroke="none" stroke-width="0.5"/>
<circle cx="45.12" cy="252.28" r="1.45" fill="#dc3330" stroke="none" stroke-width="0.5"/>
<circle cx="46.13" cy="249.4" r="1.45" fill="#dc3330" stroke="none" stroke-width="0.5"/>
<circle cx="47.44" cy="247.36" r="1.45" fill="#dc3330" stroke="none" stroke-width="0.5"/>
<circle cx="49.33" cy="260.2" r="1.45" fill="#dc3330" stroke="none" stroke-width="0.5"/>
<circle cx="52.08" cy="259.12" r="1.45" fill="#dc3330" stroke="none" stroke-width="0.5"/>
<circle cx="54.25" cy="242.92" r="1.45" fill="#dc3330" stroke="none" stroke-width="0.5"/>
<circle cx="55.7" cy="253.6" r="1.45" fill="#dc3330" stroke="none" stroke-width="0.5"/>
<circle cx="59.33" cy="256.84" r="1.45" fill="#dc3330" stroke="none" stroke-width="0.5"/>
<circle cx="62.52" cy="254.2" r="1.45" fill="#dc3330" stroke="none" stroke-width="0.5"/>
<circle cx="65.13" cy="258.64" r="1.45" fill="#dc3330" stroke="none" stroke-width="0.5"/>
<circle cx="66.14" cy="243.4" r="1.45" fill="#dc3330" stroke="none" stroke-width="0.5"/>
<circle cx="68.03" cy="255.52" r="1.45" fill="#dc3330" stroke="none" stroke-width="0.5"/>
<circle cx="68.32" cy="259.84" r="1.45" fill="#dc3330" stroke="none" stroke-width="0.5"/>
<circle cx="71.66" cy="260.2" r="1.45" fill="#dc3330" stroke="none" stroke-width="0.5"/>
<circle cx="78.33" cy="253.6" r="1.45" fill="#dc3330" stroke="none" stroke-width="0.5"/>
<circle cx="90.5" cy="248.56" r="1.45" fill="#dc3330" stroke="none" stroke-width="0.5"/>
<circle cx="105.2" cy="203.4" r="1.3" fill="#111" stroke="none" stroke-width="0.5"/>
<text x="0" y="0" font-size="5.6" text-anchor="start" font-weight="normal" fill="#1e1e1e" color="#1e1e1e" transform="translate(111.5 205.55) scale(1 1.12)" >SR/SR</text>
<circle cx="105.2" cy="210.8" r="1.3" fill="#dc3330" stroke="none" stroke-width="0.5"/>
<text x="0" y="0" font-size="5.6" text-anchor="start" font-weight="normal" fill="#1e1e1e" color="#1e1e1e" transform="translate(111.5 212.95) scale(1 1.12)" >SR/CI</text>
<text x="0" y="0" font-size="4.7" text-anchor="start" font-weight="bold" fill="#111" color="#111" transform="translate(71.4 218.65) scale(1 1.12)" ><tspan font-style="italic">r</tspan> = -0.3516</text>
<text x="0" y="0" font-size="4.7" text-anchor="start" font-weight="bold" fill="#111" color="#111" transform="translate(71.4 224.85) scale(1 1.12)" ><tspan font-style="italic">P</tspan> = 0.0068 (**)</text>
<line x1="155.8" y1="206.4" x2="155.8" y2="262.8" stroke="#a0a0a0" stroke-width="1.35" />
<line x1="154.2" y1="262.3" x2="155.8" y2="262.3" stroke="#a0a0a0" stroke-width="1.1" />
<text x="0" y="0" font-size="5.95" text-anchor="end" font-weight="normal" fill="#1e1e1e" color="#1e1e1e" transform="translate(153.6 263.55) scale(1 1.12)" >0</text>
<line x1="154.2" y1="251.12" x2="155.8" y2="251.12" stroke="#a0a0a0" stroke-width="1.1" />
<text x="0" y="0" font-size="5.95" text-anchor="end" font-weight="normal" fill="#1e1e1e" color="#1e1e1e" transform="translate(153.6 252.37) scale(1 1.12)" >10</text>
<line x1="154.2" y1="239.94" x2="155.8" y2="239.94" stroke="#a0a0a0" stroke-width="1.1" />
<text x="0" y="0" font-size="5.95" text-anchor="end" font-weight="normal" fill="#1e1e1e" color="#1e1e1e" transform="translate(153.6 241.19) scale(1 1.12)" >20</text>
<line x1="154.2" y1="228.76" x2="155.8" y2="228.76" stroke="#a0a0a0" stroke-width="1.1" />
<text x="0" y="0" font-size="5.95" text-anchor="end" font-weight="normal" fill="#1e1e1e" color="#1e1e1e" transform="translate(153.6 230.01) scale(1 1.12)" >30</text>
<line x1="154.2" y1="217.58" x2="155.8" y2="217.58" stroke="#a0a0a0" stroke-width="1.1" />
<text x="0" y="0" font-size="5.95" text-anchor="end" font-weight="normal" fill="#1e1e1e" color="#1e1e1e" transform="translate(153.6 218.83) scale(1 1.12)" >40</text>
<line x1="154.2" y1="206.4" x2="155.8" y2="206.4" stroke="#a0a0a0" stroke-width="1.1" />
<text x="0" y="0" font-size="5.95" text-anchor="end" font-weight="normal" fill="#1e1e1e" color="#1e1e1e" transform="translate(153.6 207.65) scale(1 1.12)" >50</text>
<line x1="155.8" y1="262.3" x2="239.8" y2="262.3" stroke="#a0a0a0" stroke-width="1.1" />
<line x1="155.8" y1="262.3" x2="155.8" y2="263.8" stroke="#a0a0a0" stroke-width="0.8" />
<text x="0" y="0" font-size="5.95" text-anchor="middle" font-weight="normal" fill="#1e1e1e" color="#1e1e1e" transform="translate(156.5 269.75) scale(1 1.12)" >0</text>
<line x1="169.8" y1="262.3" x2="169.8" y2="263.8" stroke="#a0a0a0" stroke-width="0.8" />
<text x="0" y="0" font-size="5.95" text-anchor="middle" font-weight="normal" fill="#1e1e1e" color="#1e1e1e" transform="translate(170.5 269.75) scale(1 1.12)" >100</text>
<line x1="183.8" y1="262.3" x2="183.8" y2="263.8" stroke="#a0a0a0" stroke-width="0.8" />
<text x="0" y="0" font-size="5.95" text-anchor="middle" font-weight="normal" fill="#1e1e1e" color="#1e1e1e" transform="translate(184.5 269.75) scale(1 1.12)" >200</text>
<line x1="197.8" y1="262.3" x2="197.8" y2="263.8" stroke="#a0a0a0" stroke-width="0.8" />
<text x="0" y="0" font-size="5.95" text-anchor="middle" font-weight="normal" fill="#1e1e1e" color="#1e1e1e" transform="translate(198.5 269.75) scale(1 1.12)" >300</text>
<line x1="211.8" y1="262.3" x2="211.8" y2="263.8" stroke="#a0a0a0" stroke-width="0.8" />
<text x="0" y="0" font-size="5.95" text-anchor="middle" font-weight="normal" fill="#1e1e1e" color="#1e1e1e" transform="translate(212.5 269.75) scale(1 1.12)" >400</text>
<line x1="225.8" y1="262.3" x2="225.8" y2="263.8" stroke="#a0a0a0" stroke-width="0.8" />
<text x="0" y="0" font-size="5.95" text-anchor="middle" font-weight="normal" fill="#1e1e1e" color="#1e1e1e" transform="translate(226.5 269.75) scale(1 1.12)" >500</text>
<line x1="239.8" y1="262.3" x2="239.8" y2="263.8" stroke="#a0a0a0" stroke-width="0.8" />
<text x="0" y="0" font-size="5.95" text-anchor="middle" font-weight="normal" fill="#1e1e1e" color="#1e1e1e" transform="translate(240.5 269.75) scale(1 1.12)" >600</text>
<text x="0" y="0" font-size="6" text-anchor="middle" font-weight="normal" fill="#1e1e1e" color="#1e1e1e" transform="translate(199.5 277.85) scale(1 1.12)" >EDI</text>
<text x="144.8" y="231.1" font-size="5.9" text-anchor="middle" font-weight="normal" fill="#1e1e1e" color="#1e1e1e" transform="rotate(-90 144.8 231.1)" >% Activated cTfh</text>
<text x="0" y="0" font-size="5.4" text-anchor="middle" font-weight="normal" fill="#333" color="#333" transform="translate(198.2 197.85) scale(1 1.12)" >SR/SR</text>
<line x1="155.8" y1="247.43" x2="226.5" y2="260.06" stroke="#333" stroke-width="0.8" />
<circle cx="165.46" cy="215.46" r="1.45" fill="#111" stroke="none" stroke-width="0.5"/>
<circle cx="162.38" cy="226.75" r="1.45" fill="#111" stroke="none" stroke-width="0.5"/>
<circle cx="163.36" cy="232.11" r="1.45" fill="#111" stroke="none" stroke-width="0.5"/>
<circle cx="164.62" cy="235.8" r="1.45" fill="#111" stroke="none" stroke-width="0.5"/>
<circle cx="157.48" cy="235.36" r="1.45" fill="#111" stroke="none" stroke-width="0.5"/>
<circle cx="170.64" cy="243.52" r="1.45" fill="#111" stroke="none" stroke-width="0.5"/>
<circle cx="174.42" cy="245.19" r="1.45" fill="#111" stroke="none" stroke-width="0.5"/>
<circle cx="177.78" cy="248.55" r="1.45" fill="#111" stroke="none" stroke-width="0.5"/>
<circle cx="176.66" cy="250.11" r="1.45" fill="#111" stroke="none" stroke-width="0.5"/>
<circle cx="183.66" cy="252.8" r="1.45" fill="#111" stroke="none" stroke-width="0.5"/>
<circle cx="188.84" cy="253.92" r="1.45" fill="#111" stroke="none" stroke-width="0.5"/>
<circle cx="158.04" cy="256.15" r="1.45" fill="#111" stroke="none" stroke-width="0.5"/>
<circle cx="163.36" cy="252.8" r="1.45" fill="#111" stroke="none" stroke-width="0.5"/>
<circle cx="163.78" cy="253.92" r="1.45" fill="#111" stroke="none" stroke-width="0.5"/>
<circle cx="162.38" cy="257.72" r="1.45" fill="#111" stroke="none" stroke-width="0.5"/>
<circle cx="165.46" cy="259.28" r="1.45" fill="#111" stroke="none" stroke-width="0.5"/>
<circle cx="171.2" cy="255.59" r="1.45" fill="#111" stroke="none" stroke-width="0.5"/>
<circle cx="172.74" cy="253.36" r="1.45" fill="#111" stroke="none" stroke-width="0.5"/>
<circle cx="172.04" cy="259.28" r="1.45" fill="#111" stroke="none" stroke-width="0.5"/>
<circle cx="176.66" cy="258.95" r="1.45" fill="#111" stroke="none" stroke-width="0.5"/>
<circle cx="176.94" cy="260.96" r="1.45" fill="#111" stroke="none" stroke-width="0.5"/>
<circle cx="181.56" cy="256.15" r="1.45" fill="#111" stroke="none" stroke-width="0.5"/>
<circle cx="186.04" cy="256.15" r="1.45" fill="#111" stroke="none" stroke-width="0.5"/>
<circle cx="188.14" cy="259.73" r="1.45" fill="#111" stroke="none" stroke-width="0.5"/>
<circle cx="189.26" cy="258.28" r="1.45" fill="#111" stroke="none" stroke-width="0.5"/>
<circle cx="199.62" cy="255.59" r="1.45" fill="#111" stroke="none" stroke-width="0.5"/>
<circle cx="214.32" cy="256.71" r="1.45" fill="#111" stroke="none" stroke-width="0.5"/>
<circle cx="215.3" cy="260.96" r="1.45" fill="#111" stroke="none" stroke-width="0.5"/>
<circle cx="220.62" cy="257.16" r="1.45" fill="#111" stroke="none" stroke-width="0.5"/>
<circle cx="223.28" cy="238.26" r="1.45" fill="#111" stroke="none" stroke-width="0.5"/>
<circle cx="225.94" cy="260.06" r="1.45" fill="#111" stroke="none" stroke-width="0.5"/>
<circle cx="164.2" cy="255.03" r="1.45" fill="#111" stroke="none" stroke-width="0.5"/>
<circle cx="175.4" cy="251.12" r="1.45" fill="#111" stroke="none" stroke-width="0.5"/>
<text x="0" y="0" font-size="4.65" text-anchor="start" font-weight="bold" fill="#111" color="#111" transform="translate(204 217.05) scale(1 1.12)" ><tspan font-style="italic">r</tspan> = -0.3748</text>
<text x="0" y="0" font-size="4.65" text-anchor="start" font-weight="bold" fill="#111" color="#111" transform="translate(204 223.15) scale(1 1.12)" ><tspan font-style="italic">P</tspan> = 0.0243 (*)</text>
<line x1="280.4" y1="206.3" x2="280.4" y2="262.8" stroke="#a0a0a0" stroke-width="1.35" />
<line x1="278.8" y1="262.3" x2="280.4" y2="262.3" stroke="#a0a0a0" stroke-width="1.1" />
<text x="0" y="0" font-size="5.95" text-anchor="end" font-weight="normal" fill="#1e1e1e" color="#1e1e1e" transform="translate(278.2 263.55) scale(1 1.12)" >0</text>
<line x1="278.8" y1="251.1" x2="280.4" y2="251.1" stroke="#a0a0a0" stroke-width="1.1" />
<text x="0" y="0" font-size="5.95" text-anchor="end" font-weight="normal" fill="#1e1e1e" color="#1e1e1e" transform="translate(278.2 252.35) scale(1 1.12)" >10</text>
<line x1="278.8" y1="239.9" x2="280.4" y2="239.9" stroke="#a0a0a0" stroke-width="1.1" />
<text x="0" y="0" font-size="5.95" text-anchor="end" font-weight="normal" fill="#1e1e1e" color="#1e1e1e" transform="translate(278.2 241.15) scale(1 1.12)" >20</text>
<line x1="278.8" y1="228.7" x2="280.4" y2="228.7" stroke="#a0a0a0" stroke-width="1.1" />
<text x="0" y="0" font-size="5.95" text-anchor="end" font-weight="normal" fill="#1e1e1e" color="#1e1e1e" transform="translate(278.2 229.95) scale(1 1.12)" >30</text>
<line x1="278.8" y1="217.5" x2="280.4" y2="217.5" stroke="#a0a0a0" stroke-width="1.1" />
<text x="0" y="0" font-size="5.95" text-anchor="end" font-weight="normal" fill="#1e1e1e" color="#1e1e1e" transform="translate(278.2 218.75) scale(1 1.12)" >40</text>
<line x1="278.8" y1="206.3" x2="280.4" y2="206.3" stroke="#a0a0a0" stroke-width="1.1" />
<text x="0" y="0" font-size="5.95" text-anchor="end" font-weight="normal" fill="#1e1e1e" color="#1e1e1e" transform="translate(278.2 207.55) scale(1 1.12)" >50</text>
<line x1="280.4" y1="262.3" x2="365" y2="262.3" stroke="#a0a0a0" stroke-width="1.1" />
<line x1="280.4" y1="262.3" x2="280.4" y2="263.8" stroke="#a0a0a0" stroke-width="0.8" />
<text x="0" y="0" font-size="5.95" text-anchor="middle" font-weight="normal" fill="#1e1e1e" color="#1e1e1e" transform="translate(281.1 269.85) scale(1 1.12)" >0</text>
<line x1="294.5" y1="262.3" x2="294.5" y2="263.8" stroke="#a0a0a0" stroke-width="0.8" />
<text x="0" y="0" font-size="5.95" text-anchor="middle" font-weight="normal" fill="#1e1e1e" color="#1e1e1e" transform="translate(295.2 269.85) scale(1 1.12)" >100</text>
<line x1="308.6" y1="262.3" x2="308.6" y2="263.8" stroke="#a0a0a0" stroke-width="0.8" />
<text x="0" y="0" font-size="5.95" text-anchor="middle" font-weight="normal" fill="#1e1e1e" color="#1e1e1e" transform="translate(309.3 269.85) scale(1 1.12)" >200</text>
<line x1="322.7" y1="262.3" x2="322.7" y2="263.8" stroke="#a0a0a0" stroke-width="0.8" />
<text x="0" y="0" font-size="5.95" text-anchor="middle" font-weight="normal" fill="#1e1e1e" color="#1e1e1e" transform="translate(323.4 269.85) scale(1 1.12)" >300</text>
<line x1="336.8" y1="262.3" x2="336.8" y2="263.8" stroke="#a0a0a0" stroke-width="0.8" />
<text x="0" y="0" font-size="5.95" text-anchor="middle" font-weight="normal" fill="#1e1e1e" color="#1e1e1e" transform="translate(337.5 269.85) scale(1 1.12)" >400</text>
<line x1="350.9" y1="262.3" x2="350.9" y2="263.8" stroke="#a0a0a0" stroke-width="0.8" />
<text x="0" y="0" font-size="5.95" text-anchor="middle" font-weight="normal" fill="#1e1e1e" color="#1e1e1e" transform="translate(351.6 269.85) scale(1 1.12)" >500</text>
<line x1="365" y1="262.3" x2="365" y2="263.8" stroke="#a0a0a0" stroke-width="0.8" />
<text x="0" y="0" font-size="5.95" text-anchor="middle" font-weight="normal" fill="#1e1e1e" color="#1e1e1e" transform="translate(365.7 269.85) scale(1 1.12)" >600</text>
<text x="0" y="0" font-size="6" text-anchor="middle" font-weight="normal" fill="#1e1e1e" color="#1e1e1e" transform="translate(324.5 278.15) scale(1 1.12)" >EDI</text>
<text x="269.3" y="231.1" font-size="5.9" text-anchor="middle" font-weight="normal" fill="#1e1e1e" color="#1e1e1e" transform="rotate(-90 269.3 231.1)" >% Activated cTfh</text>
<text x="0" y="0" font-size="5.25" text-anchor="middle" font-weight="normal" fill="#333" color="#333" transform="translate(322.9 197.85) scale(1 1.12)" >SR/CI</text>
<line x1="280.4" y1="250.54" x2="336.8" y2="255.58" stroke="#333" stroke-width="0.8" />
<circle cx="280.82" cy="252.67" r="1.45" fill="#dc3330" stroke="none" stroke-width="0.5"/>
<circle cx="286.18" cy="249.53" r="1.45" fill="#dc3330" stroke="none" stroke-width="0.5"/>
<circle cx="288.01" cy="244.38" r="1.45" fill="#dc3330" stroke="none" stroke-width="0.5"/>
<circle cx="290.13" cy="239.9" r="1.45" fill="#dc3330" stroke="none" stroke-width="0.5"/>
<circle cx="289.14" cy="254.46" r="1.45" fill="#dc3330" stroke="none" stroke-width="0.5"/>
<circle cx="290.41" cy="259.05" r="1.45" fill="#dc3330" stroke="none" stroke-width="0.5"/>
<circle cx="293.94" cy="252.67" r="1.45" fill="#dc3330" stroke="none" stroke-width="0.5"/>
<circle cx="294.92" cy="249.98" r="1.45" fill="#dc3330" stroke="none" stroke-width="0.5"/>
<circle cx="296.19" cy="248.08" r="1.45" fill="#dc3330" stroke="none" stroke-width="0.5"/>
<circle cx="298.02" cy="260.06" r="1.45" fill="#dc3330" stroke="none" stroke-width="0.5"/>
<circle cx="300.7" cy="259.05" r="1.45" fill="#dc3330" stroke="none" stroke-width="0.5"/>
<circle cx="302.82" cy="243.93" r="1.45" fill="#dc3330" stroke="none" stroke-width="0.5"/>
<circle cx="304.23" cy="253.9" r="1.45" fill="#dc3330" stroke="none" stroke-width="0.5"/>
<circle cx="307.75" cy="256.92" r="1.45" fill="#dc3330" stroke="none" stroke-width="0.5"/>
<circle cx="310.86" cy="254.46" r="1.45" fill="#dc3330" stroke="none" stroke-width="0.5"/>
<circle cx="313.39" cy="258.6" r="1.45" fill="#dc3330" stroke="none" stroke-width="0.5"/>
<circle cx="314.38" cy="244.38" r="1.45" fill="#dc3330" stroke="none" stroke-width="0.5"/>
<circle cx="316.21" cy="255.69" r="1.45" fill="#dc3330" stroke="none" stroke-width="0.5"/>
<circle cx="316.5" cy="259.72" r="1.45" fill="#dc3330" stroke="none" stroke-width="0.5"/>
<circle cx="319.74" cy="260.06" r="1.45" fill="#dc3330" stroke="none" stroke-width="0.5"/>
<circle cx="326.22" cy="253.9" r="1.45" fill="#dc3330" stroke="none" stroke-width="0.5"/>
<circle cx="338.07" cy="249.2" r="1.45" fill="#dc3330" stroke="none" stroke-width="0.5"/>
<text x="0" y="0" font-size="4.55" text-anchor="start" font-weight="bold" fill="#111" color="#111" transform="translate(329 217.05) scale(1 1.12)" ><tspan font-style="italic">r</tspan> = -0.3123</text>
<text x="0" y="0" font-size="4.55" text-anchor="start" font-weight="bold" fill="#111" color="#111" transform="translate(329 223.15) scale(1 1.12)" ><tspan font-style="italic">P</tspan> = 0.1571 (NS)</text>
<text x="0" y="0" font-size="6.1" text-anchor="middle" font-weight="normal" fill="#1e1e1e" color="#1e1e1e" transform="translate(62.8 304.15) scale(1 1.12)" >Activated cTfh</text>
<text x="31.8" y="334.6" font-size="6" text-anchor="middle" font-weight="normal" fill="#1e1e1e" color="#1e1e1e" transform="rotate(-90 31.8 334.6)" >CXCR3</text>
<text x="0" y="0" font-size="6" text-anchor="middle" font-weight="normal" fill="#1e1e1e" color="#1e1e1e" transform="translate(62.5 366.95) scale(1 1.12)" >CCR6</text>
<defs><radialGradient id="lbg" cx="0.5" cy="0.5" r="0.62"><stop offset="0" stop-color="#d8d8d8"/><stop offset="0.6" stop-color="#b0b0b0"/><stop offset="1" stop-color="#6a6a6a"/></radialGradient></defs>
<path d="M37.2 328.7 C37.2 323.5 41 321.6 46.2 321.6 C50 321.6 52.5 322.3 54.5 323 L62.5 323.2 C64.5 323.6 64.8 327 63.5 330 L60 334.5 C57.5 336 56.8 338.5 58.5 340.5 L66 341 C68.3 341.5 68.6 344 68.6 346.5 C68.6 350 67.3 351.8 64.5 351.8 L43 351.8 C40.8 351.8 40.2 349.8 40.2 347 C40.2 344 40.5 341.5 40.8 339.5 C38.5 336.5 37.2 333 37.2 328.7 Z" fill="url(#lbg)" stroke="#151515" stroke-width="1.3"/>
<path d="M54.5 323.6 L62 323.9 C63.6 324.3 63.7 327 62.6 329.6 L59.3 333.8 C57.3 335.3 55.5 335.5 54 334.8 Z" fill="#e2e2e2"/>
<path d="M41.5 336 C44 338.5 52 339 56.5 337 L57.2 340.8 C52 341.6 46 341.4 41.3 340.6 Z" fill="#d6d6d6"/>
<ellipse cx="46.2" cy="328.9" rx="8.8" ry="7.57" fill="#4e4e4e"/>
<ellipse cx="46.2" cy="328.9" rx="7.3" ry="6.28" fill="#d0d0d0"/>
<ellipse cx="46.2" cy="328.9" rx="6" ry="5.16" fill="#5a5a5a"/>
<ellipse cx="46.2" cy="328.9" rx="4.9" ry="4.21" fill="#d8d8d8"/>
<ellipse cx="46.2" cy="328.9" rx="3.7" ry="3.18" fill="#666"/>
<ellipse cx="46.2" cy="328.9" rx="2.8" ry="2.41" fill="#dedede"/>
<ellipse cx="46.2" cy="328.9" rx="1.3" ry="1.12" fill="#111"/>
<path d="M42 347 C45 344 50 344 52 347 C50 349.5 45 350 42 347 Z" fill="#8a8a8a" opacity="0.7"/>
<path d="M55 345 C58 343.5 63 344 65.5 346.5 C63 349 58 349 55 345 Z" fill="#9a9a9a" opacity="0.6"/>
<circle cx="64.5" cy="331" r="0.65" fill="#1a1a1a" stroke="none" stroke-width="0.5"/>
<circle cx="66" cy="334" r="0.65" fill="#1a1a1a" stroke="none" stroke-width="0.5"/>
<circle cx="63" cy="336.5" r="0.65" fill="#1a1a1a" stroke="none" stroke-width="0.5"/>
<circle cx="67.5" cy="337" r="0.65" fill="#1a1a1a" stroke="none" stroke-width="0.5"/>
<circle cx="69" cy="339.5" r="0.65" fill="#1a1a1a" stroke="none" stroke-width="0.5"/>
<circle cx="70" cy="350" r="0.65" fill="#1a1a1a" stroke="none" stroke-width="0.5"/>
<circle cx="57" cy="354.5" r="0.65" fill="#1a1a1a" stroke="none" stroke-width="0.5"/>
<circle cx="45" cy="354.5" r="0.65" fill="#1a1a1a" stroke="none" stroke-width="0.5"/>
<circle cx="38.5" cy="351" r="0.65" fill="#1a1a1a" stroke="none" stroke-width="0.5"/>
<circle cx="38" cy="345" r="0.65" fill="#1a1a1a" stroke="none" stroke-width="0.5"/>
<circle cx="60" cy="353.8" r="0.65" fill="#1a1a1a" stroke="none" stroke-width="0.5"/>
<circle cx="61.5" cy="338.5" r="0.65" fill="#1a1a1a" stroke="none" stroke-width="0.5"/>
<circle cx="64.5" cy="325" r="0.65" fill="#1a1a1a" stroke="none" stroke-width="0.5"/>
<circle cx="65.5" cy="322.5" r="0.65" fill="#1a1a1a" stroke="none" stroke-width="0.5"/>
<circle cx="51" cy="354" r="0.65" fill="#1a1a1a" stroke="none" stroke-width="0.5"/>
<circle cx="69.5" cy="343" r="0.65" fill="#1a1a1a" stroke="none" stroke-width="0.5"/>
<circle cx="39.5" cy="337.5" r="0.65" fill="#1a1a1a" stroke="none" stroke-width="0.5"/>
<line x1="35.7" y1="306.6" x2="35.7" y2="340.6" stroke="#e6a7b8" stroke-width="0.8" stroke-dasharray="1.4 0.7"/>
<line x1="35.7" y1="306.6" x2="55.8" y2="306.6" stroke="#e6a7b8" stroke-width="0.8" stroke-dasharray="1.4 0.7"/>
<line x1="35.7" y1="340.6" x2="35.7" y2="359.6" stroke="#a6d8dc" stroke-width="0.8" stroke-dasharray="1.4 0.7"/>
<line x1="35.7" y1="359.6" x2="55.8" y2="359.6" stroke="#a6d8dc" stroke-width="0.8" />
<line x1="35.7" y1="340.6" x2="55.8" y2="340.6" stroke="#a6d8dc" stroke-width="0.6" />
<line x1="55.8" y1="340.6" x2="55.8" y2="359.6" stroke="#a6d8dc" stroke-width="0.8" />
<rect x="55.8" y="306.6" width="33.7" height="34" fill="none" stroke="#d6df7a" stroke-width="0.9" />
<rect x="55.8" y="340.6" width="33.7" height="19" fill="none" stroke="#7fd3c6" stroke-width="0.9" />
<text x="0" y="0" font-size="5.7" text-anchor="start" font-weight="bold" fill="#1a1a1a" color="#1a1a1a" transform="translate(37.6 313.55) scale(1 1.12)" >cTfh1</text>
<text x="0" y="0" font-size="5.7" text-anchor="end" font-weight="bold" fill="#1a1a1a" color="#1a1a1a" transform="translate(88 313.55) scale(1 1.12)" >cTfh1/17</text>
<text x="0" y="0" font-size="5.7" text-anchor="start" font-weight="bold" fill="#1a1a1a" color="#1a1a1a" transform="translate(37.8 358.35) scale(1 1.12)" >cTfh2</text>
<text x="0" y="0" font-size="5.7" text-anchor="end" font-weight="bold" fill="#1a1a1a" color="#1a1a1a" transform="translate(88 358.35) scale(1 1.12)" >cTfh17</text>
<line x1="158" y1="297" x2="158" y2="360" stroke="#707070" stroke-width="0.9" />
<line x1="156.4" y1="359.5" x2="158" y2="359.5" stroke="#a0a0a0" stroke-width="1.1" />
<text x="0" y="0" font-size="5.95" text-anchor="end" font-weight="normal" fill="#1e1e1e" color="#1e1e1e" transform="translate(155.8 360.75) scale(1 1.12)" >0</text>
<line x1="156.4" y1="337.47" x2="158" y2="337.47" stroke="#a0a0a0" stroke-width="1.1" />
<text x="0" y="0" font-size="5.95" text-anchor="end" font-weight="normal" fill="#1e1e1e" color="#1e1e1e" transform="translate(155.8 338.72) scale(1 1.12)" >50</text>
<line x1="156.4" y1="315.44" x2="158" y2="315.44" stroke="#a0a0a0" stroke-width="1.1" />
<text x="0" y="0" font-size="5.95" text-anchor="end" font-weight="normal" fill="#1e1e1e" color="#1e1e1e" transform="translate(155.8 316.69) scale(1 1.12)" >100</text>
<line x1="158" y1="359.5" x2="232.5" y2="359.5" stroke="#a0a0a0" stroke-width="1.1" />
<line x1="179.3" y1="298" x2="179.3" y2="359.5" stroke="#8c8080" stroke-width="0.9" stroke-dasharray="1.1 1.3"/>
<rect x="163.7" y="315.44" width="12.6" height="7.93" fill="#f9b8c6" stroke="none" stroke-width="0.7" />
<rect x="163.7" y="323.37" width="12.6" height="22.91" fill="#a8ddf3" stroke="none" stroke-width="0.7" />
<rect x="163.7" y="346.28" width="12.6" height="11.02" fill="#41b996" stroke="none" stroke-width="0.7" />
<rect x="163.7" y="357.3" width="12.6" height="2.2" fill="#c4cc40" stroke="none" stroke-width="0.7" />
<line x1="170" y1="357.3" x2="170" y2="356.42" stroke="#2e3038" stroke-width="0.95" />
<line x1="167.2" y1="356.42" x2="172.8" y2="356.42" stroke="#2e3038" stroke-width="0.95" />
<line x1="170" y1="346.28" x2="170" y2="342.1" stroke="#2e3038" stroke-width="0.95" />
<line x1="167.2" y1="342.1" x2="172.8" y2="342.1" stroke="#2e3038" stroke-width="0.95" />
<line x1="170" y1="323.37" x2="170" y2="307.95" stroke="#2e3038" stroke-width="0.95" />
<line x1="167.2" y1="307.95" x2="172.8" y2="307.95" stroke="#2e3038" stroke-width="0.95" />
<line x1="170" y1="315.44" x2="170" y2="309.27" stroke="#2e3038" stroke-width="0.95" />
<line x1="167.2" y1="309.27" x2="172.8" y2="309.27" stroke="#2e3038" stroke-width="0.95" />
<rect x="181.9" y="315.44" width="12.6" height="21.59" fill="#f9b8c6" stroke="none" stroke-width="0.7" />
<rect x="181.9" y="337.03" width="12.6" height="12.78" fill="#a8ddf3" stroke="none" stroke-width="0.7" />
<rect x="181.9" y="349.81" width="12.6" height="6.17" fill="#41b996" stroke="none" stroke-width="0.7" />
<rect x="181.9" y="355.98" width="12.6" height="3.52" fill="#c4cc40" stroke="none" stroke-width="0.7" />
<line x1="188.2" y1="355.98" x2="188.2" y2="350.69" stroke="#2e3038" stroke-width="0.95" />
<line x1="185.4" y1="350.69" x2="191" y2="350.69" stroke="#2e3038" stroke-width="0.95" />
<line x1="188.2" y1="349.81" x2="188.2" y2="342.76" stroke="#2e3038" stroke-width="0.95" />
<line x1="185.4" y1="342.76" x2="191" y2="342.76" stroke="#2e3038" stroke-width="0.95" />
<line x1="188.2" y1="337.03" x2="188.2" y2="326.45" stroke="#2e3038" stroke-width="0.95" />
<line x1="185.4" y1="326.45" x2="191" y2="326.45" stroke="#2e3038" stroke-width="0.95" />
<line x1="188.2" y1="315.44" x2="188.2" y2="306.63" stroke="#2e3038" stroke-width="0.95" />
<line x1="185.4" y1="306.63" x2="191" y2="306.63" stroke="#2e3038" stroke-width="0.95" />
<rect x="199.9" y="315.44" width="12.6" height="17.18" fill="#f9b8c6" stroke="none" stroke-width="0.7" />
<rect x="199.9" y="332.62" width="12.6" height="16.52" fill="#a8ddf3" stroke="none" stroke-width="0.7" />
<rect x="199.9" y="349.15" width="12.6" height="6.83" fill="#41b996" stroke="none" stroke-width="0.7" />
<rect x="199.9" y="355.98" width="12.6" height="3.52" fill="#c4cc40" stroke="none" stroke-width="0.7" />
<line x1="206.2" y1="355.98" x2="206.2" y2="354.21" stroke="#2e3038" stroke-width="0.95" />
<line x1="203.4" y1="354.21" x2="209" y2="354.21" stroke="#2e3038" stroke-width="0.95" />
<line x1="206.2" y1="349.15" x2="206.2" y2="343.86" stroke="#2e3038" stroke-width="0.95" />
<line x1="203.4" y1="343.86" x2="209" y2="343.86" stroke="#2e3038" stroke-width="0.95" />
<line x1="206.2" y1="332.62" x2="206.2" y2="322.49" stroke="#2e3038" stroke-width="0.95" />
<line x1="203.4" y1="322.49" x2="209" y2="322.49" stroke="#2e3038" stroke-width="0.95" />
<line x1="206.2" y1="315.44" x2="206.2" y2="305.75" stroke="#2e3038" stroke-width="0.95" />
<line x1="203.4" y1="305.75" x2="209" y2="305.75" stroke="#2e3038" stroke-width="0.95" />
<rect x="218.1" y="315.44" width="12.6" height="16.74" fill="#f9b8c6" stroke="none" stroke-width="0.7" />
<rect x="218.1" y="332.18" width="12.6" height="20.93" fill="#a8ddf3" stroke="none" stroke-width="0.7" />
<rect x="218.1" y="353.11" width="12.6" height="3.75" fill="#41b996" stroke="none" stroke-width="0.7" />
<rect x="218.1" y="356.86" width="12.6" height="2.64" fill="#c4cc40" stroke="none" stroke-width="0.7" />
<line x1="224.4" y1="356.86" x2="224.4" y2="355.98" stroke="#2e3038" stroke-width="0.95" />
<line x1="221.6" y1="355.98" x2="227.2" y2="355.98" stroke="#2e3038" stroke-width="0.95" />
<line x1="224.4" y1="353.11" x2="224.4" y2="349.37" stroke="#2e3038" stroke-width="0.95" />
<line x1="221.6" y1="349.37" x2="227.2" y2="349.37" stroke="#2e3038" stroke-width="0.95" />
<line x1="224.4" y1="332.18" x2="224.4" y2="321.61" stroke="#2e3038" stroke-width="0.95" />
<line x1="221.6" y1="321.61" x2="227.2" y2="321.61" stroke="#2e3038" stroke-width="0.95" />
<line x1="224.4" y1="315.44" x2="224.4" y2="306.63" stroke="#2e3038" stroke-width="0.95" />
<line x1="221.6" y1="306.63" x2="227.2" y2="306.63" stroke="#2e3038" stroke-width="0.95" />
<line x1="170" y1="359.5" x2="170" y2="360.8" stroke="#a0a0a0" stroke-width="0.7" />
<text x="171.8" y="367" font-size="5.85" text-anchor="end" font-weight="normal" fill="#111" color="#111" transform="rotate(-45 171.8 367)" style="stroke-width:0.28px">Pre-reinfection</text>
<line x1="188.2" y1="359.5" x2="188.2" y2="360.8" stroke="#a0a0a0" stroke-width="0.7" />
<text x="190" y="367" font-size="5.85" text-anchor="end" font-weight="normal" fill="#111" color="#111" transform="rotate(-45 190 367)" style="stroke-width:0.28px">Early acute</text>
<line x1="206.2" y1="359.5" x2="206.2" y2="360.8" stroke="#a0a0a0" stroke-width="0.7" />
<text x="208" y="367" font-size="5.85" text-anchor="end" font-weight="normal" fill="#111" color="#111" transform="rotate(-45 208 367)" style="stroke-width:0.28px">Late acute</text>
<line x1="224.4" y1="359.5" x2="224.4" y2="360.8" stroke="#a0a0a0" stroke-width="0.7" />
<text x="226.2" y="367" font-size="5.85" text-anchor="end" font-weight="normal" fill="#111" color="#111" transform="rotate(-45 226.2 367)" style="stroke-width:0.28px">Follow-up</text>
<text x="137.8" y="330.9" font-size="5.65" text-anchor="middle" font-weight="normal" fill="#1e1e1e" color="#1e1e1e" transform="rotate(-90 137.8 330.9)" >cTfh subsets</text>
<text x="144.6" y="330.9" font-size="5.65" text-anchor="middle" font-weight="normal" fill="#1e1e1e" color="#1e1e1e" transform="rotate(-90 144.6 330.9)" >% of activated cTfh</text>
<text x="0" y="0" font-size="6" text-anchor="middle" font-weight="normal" fill="#1e1e1e" color="#1e1e1e" transform="translate(195.5 297.75) scale(1 1.12)" >SR/SR</text>
<line x1="281.2" y1="297" x2="281.2" y2="360.3" stroke="#707070" stroke-width="0.9" />
<line x1="279.6" y1="359.8" x2="281.2" y2="359.8" stroke="#a0a0a0" stroke-width="1.1" />
<text x="0" y="0" font-size="5.95" text-anchor="end" font-weight="normal" fill="#1e1e1e" color="#1e1e1e" transform="translate(279 361.05) scale(1 1.12)" >0</text>
<line x1="279.6" y1="337.77" x2="281.2" y2="337.77" stroke="#a0a0a0" stroke-width="1.1" />
<text x="0" y="0" font-size="5.95" text-anchor="end" font-weight="normal" fill="#1e1e1e" color="#1e1e1e" transform="translate(279 339.02) scale(1 1.12)" >50</text>
<line x1="279.6" y1="315.74" x2="281.2" y2="315.74" stroke="#a0a0a0" stroke-width="1.1" />
<text x="0" y="0" font-size="5.95" text-anchor="end" font-weight="normal" fill="#1e1e1e" color="#1e1e1e" transform="translate(279 316.99) scale(1 1.12)" >100</text>
<line x1="281.2" y1="359.8" x2="359" y2="359.8" stroke="#a0a0a0" stroke-width="1.1" />
<line x1="302" y1="298" x2="302" y2="359.8" stroke="#8c8080" stroke-width="0.9" stroke-dasharray="1.1 1.3"/>
<rect x="286.5" y="317.06" width="12.6" height="9.25" fill="#f9b8c6" stroke="none" stroke-width="0.7" />
<rect x="286.5" y="326.31" width="12.6" height="23.35" fill="#a8ddf3" stroke="none" stroke-width="0.7" />
<rect x="286.5" y="349.67" width="12.6" height="7.93" fill="#41b996" stroke="none" stroke-width="0.7" />
<rect x="286.5" y="357.6" width="12.6" height="2.2" fill="#c4cc40" stroke="none" stroke-width="0.7" />
<line x1="292.8" y1="357.6" x2="292.8" y2="357.6" stroke="#2e3038" stroke-width="0.95" />
<line x1="290" y1="357.6" x2="295.6" y2="357.6" stroke="#2e3038" stroke-width="0.95" />
<line x1="292.8" y1="349.67" x2="292.8" y2="343.72" stroke="#2e3038" stroke-width="0.95" />
<line x1="290" y1="343.72" x2="295.6" y2="343.72" stroke="#2e3038" stroke-width="0.95" />
<line x1="292.8" y1="326.31" x2="292.8" y2="323.67" stroke="#2e3038" stroke-width="0.95" />
<line x1="290" y1="323.67" x2="295.6" y2="323.67" stroke="#2e3038" stroke-width="0.95" />
<line x1="292.8" y1="317.06" x2="292.8" y2="313.54" stroke="#2e3038" stroke-width="0.95" />
<line x1="290" y1="313.54" x2="295.6" y2="313.54" stroke="#2e3038" stroke-width="0.95" />
<rect x="304.9" y="315.74" width="12.6" height="23.79" fill="#f9b8c6" stroke="none" stroke-width="0.7" />
<rect x="304.9" y="339.53" width="12.6" height="13.66" fill="#a8ddf3" stroke="none" stroke-width="0.7" />
<rect x="304.9" y="353.19" width="12.6" height="3.97" fill="#41b996" stroke="none" stroke-width="0.7" />
<rect x="304.9" y="357.16" width="12.6" height="2.64" fill="#c4cc40" stroke="none" stroke-width="0.7" />
<line x1="311.2" y1="357.16" x2="311.2" y2="355.83" stroke="#2e3038" stroke-width="0.95" />
<line x1="308.4" y1="355.83" x2="314" y2="355.83" stroke="#2e3038" stroke-width="0.95" />
<line x1="311.2" y1="353.19" x2="311.2" y2="347.46" stroke="#2e3038" stroke-width="0.95" />
<line x1="308.4" y1="347.46" x2="314" y2="347.46" stroke="#2e3038" stroke-width="0.95" />
<line x1="311.2" y1="339.53" x2="311.2" y2="332.48" stroke="#2e3038" stroke-width="0.95" />
<line x1="308.4" y1="332.48" x2="314" y2="332.48" stroke="#2e3038" stroke-width="0.95" />
<line x1="311.2" y1="315.74" x2="311.2" y2="306.93" stroke="#2e3038" stroke-width="0.95" />
<line x1="308.4" y1="306.93" x2="314" y2="306.93" stroke="#2e3038" stroke-width="0.95" />
<rect x="322.4" y="315.74" width="12.6" height="20.27" fill="#f9b8c6" stroke="none" stroke-width="0.7" />
<rect x="322.4" y="336.01" width="12.6" height="12.78" fill="#a8ddf3" stroke="none" stroke-width="0.7" />
<rect x="322.4" y="348.79" width="12.6" height="7.05" fill="#41b996" stroke="none" stroke-width="0.7" />
<rect x="322.4" y="355.83" width="12.6" height="3.97" fill="#c4cc40" stroke="none" stroke-width="0.7" />
<line x1="328.7" y1="355.83" x2="328.7" y2="350.11" stroke="#2e3038" stroke-width="0.95" />
<line x1="325.9" y1="350.11" x2="331.5" y2="350.11" stroke="#2e3038" stroke-width="0.95" />
<line x1="328.7" y1="348.79" x2="328.7" y2="340.85" stroke="#2e3038" stroke-width="0.95" />
<line x1="325.9" y1="340.85" x2="331.5" y2="340.85" stroke="#2e3038" stroke-width="0.95" />
<line x1="328.7" y1="336.01" x2="328.7" y2="324.55" stroke="#2e3038" stroke-width="0.95" />
<line x1="325.9" y1="324.55" x2="331.5" y2="324.55" stroke="#2e3038" stroke-width="0.95" />
<line x1="328.7" y1="315.74" x2="328.7" y2="306.05" stroke="#2e3038" stroke-width="0.95" />
<line x1="325.9" y1="306.05" x2="331.5" y2="306.05" stroke="#2e3038" stroke-width="0.95" />
<rect x="340.9" y="315.74" width="12.6" height="16.74" fill="#f9b8c6" stroke="none" stroke-width="0.7" />
<rect x="340.9" y="332.48" width="12.6" height="15.42" fill="#a8ddf3" stroke="none" stroke-width="0.7" />
<rect x="340.9" y="347.9" width="12.6" height="7.93" fill="#41b996" stroke="none" stroke-width="0.7" />
<rect x="340.9" y="355.83" width="12.6" height="3.97" fill="#c4cc40" stroke="none" stroke-width="0.7" />
<line x1="347.2" y1="355.83" x2="347.2" y2="349.23" stroke="#2e3038" stroke-width="0.95" />
<line x1="344.4" y1="349.23" x2="350" y2="349.23" stroke="#2e3038" stroke-width="0.95" />
<line x1="347.2" y1="347.9" x2="347.2" y2="341.29" stroke="#2e3038" stroke-width="0.95" />
<line x1="344.4" y1="341.29" x2="350" y2="341.29" stroke="#2e3038" stroke-width="0.95" />
<line x1="347.2" y1="332.48" x2="347.2" y2="322.35" stroke="#2e3038" stroke-width="0.95" />
<line x1="344.4" y1="322.35" x2="350" y2="322.35" stroke="#2e3038" stroke-width="0.95" />
<line x1="347.2" y1="315.74" x2="347.2" y2="306.93" stroke="#2e3038" stroke-width="0.95" />
<line x1="344.4" y1="306.93" x2="350" y2="306.93" stroke="#2e3038" stroke-width="0.95" />
<line x1="292.8" y1="359.8" x2="292.8" y2="361.1" stroke="#a0a0a0" stroke-width="0.7" />
<text x="294.6" y="367.3" font-size="5.85" text-anchor="end" font-weight="normal" fill="#111" color="#111" transform="rotate(-45 294.6 367.3)" style="stroke-width:0.28px">Pre-reinfection</text>
<line x1="311.2" y1="359.8" x2="311.2" y2="361.1" stroke="#a0a0a0" stroke-width="0.7" />
<text x="313" y="367.3" font-size="5.85" text-anchor="end" font-weight="normal" fill="#111" color="#111" transform="rotate(-45 313 367.3)" style="stroke-width:0.28px">Early acute</text>
<line x1="328.7" y1="359.8" x2="328.7" y2="361.1" stroke="#a0a0a0" stroke-width="0.7" />
<text x="330.5" y="367.3" font-size="5.85" text-anchor="end" font-weight="normal" fill="#111" color="#111" transform="rotate(-45 330.5 367.3)" style="stroke-width:0.28px">Late acute</text>
<line x1="347.2" y1="359.8" x2="347.2" y2="361.1" stroke="#a0a0a0" stroke-width="0.7" />
<text x="349" y="367.3" font-size="5.85" text-anchor="end" font-weight="normal" fill="#111" color="#111" transform="rotate(-45 349 367.3)" style="stroke-width:0.28px">Follow-up</text>
<text x="260.9" y="331.1" font-size="5.65" text-anchor="middle" font-weight="normal" fill="#1e1e1e" color="#1e1e1e" transform="rotate(-90 260.9 331.1)" >cTfh subsets</text>
<text x="266.2" y="332.2" font-size="5.65" text-anchor="middle" font-weight="normal" fill="#1e1e1e" color="#1e1e1e" transform="rotate(-90 266.2 332.2)" >% of activated cTfh</text>
<text x="0" y="0" font-size="6.2" text-anchor="middle" font-weight="normal" fill="#1e1e1e" color="#1e1e1e" transform="translate(319.8 298.15) scale(1 1.12)" >SR/CI</text>
<rect x="364.5" y="295.3" width="34" height="31" fill="#fff" stroke="#999" stroke-width="0.7" />
<rect x="366.5" y="299.3" width="2.6" height="2.6" fill="#f9b8c6" stroke="none" stroke-width="0.7" />
<text x="0" y="0" font-size="5.6" text-anchor="start" font-weight="normal" fill="#1e1e1e" color="#1e1e1e" transform="translate(373.3 302.55) scale(1 1.12)" >cTfh1</text>
<rect x="366.5" y="305.2" width="2.6" height="2.6" fill="#a8ddf3" stroke="none" stroke-width="0.7" />
<text x="0" y="0" font-size="5.6" text-anchor="start" font-weight="normal" fill="#1e1e1e" color="#1e1e1e" transform="translate(373.3 308.45) scale(1 1.12)" >cTfh2</text>
<rect x="366.5" y="313.1" width="2.6" height="2.6" fill="#41b996" stroke="none" stroke-width="0.7" />
<text x="0" y="0" font-size="5.6" text-anchor="start" font-weight="normal" fill="#1e1e1e" color="#1e1e1e" transform="translate(373.3 316.35) scale(1 1.12)" >cTfh17</text>
<rect x="366.5" y="319.8" width="2.6" height="2.6" fill="#c4cc40" stroke="none" stroke-width="0.7" />
<text x="0" y="0" font-size="5.6" text-anchor="start" font-weight="normal" fill="#1e1e1e" color="#1e1e1e" transform="translate(373.3 323.05) scale(1 1.12)" >cTfh1/17</text>
</svg>
</body></html>
